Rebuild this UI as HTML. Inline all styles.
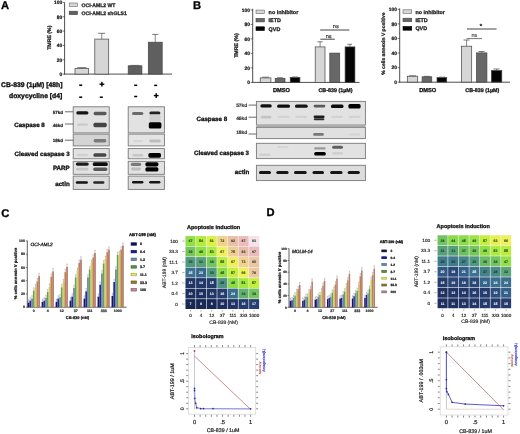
<!DOCTYPE html>
<html><head><meta charset="utf-8"><style>
html,body{margin:0;padding:0;background:#fff;}
svg{display:block;font-family:'Liberation Sans', sans-serif;filter:blur(0.3px);text-rendering:geometricPrecision;}
</style></head><body>
<svg width="520" height="434" viewBox="0 0 520 434">
<defs><filter id="bb" x="-20%" y="-60%" width="140%" height="220%"><feGaussianBlur stdDeviation="0.5"/></filter></defs>
<rect width="520" height="434" fill="#fff"/>
<text x="1" y="9.3" font-size="11.2" font-weight="bold" text-anchor="start" fill="#000" stroke="#000" stroke-width="0.3">A</text>
<text x="193" y="9.3" font-size="11.2" font-weight="bold" text-anchor="start" fill="#000" stroke="#000" stroke-width="0.3">B</text>
<text x="1.2" y="216.8" font-size="11.2" font-weight="bold" text-anchor="start" fill="#000" stroke="#000" stroke-width="0.3">C</text>
<text x="266.6" y="216.2" font-size="11.2" font-weight="bold" text-anchor="start" fill="#000" stroke="#000" stroke-width="0.3">D</text>
<line x1="64.60" y1="2.40" x2="64.60" y2="74.50" stroke="#3a3a3a" stroke-width="0.9"/>
<line x1="64.20" y1="74.10" x2="172.00" y2="74.10" stroke="#3a3a3a" stroke-width="0.9"/>
<line x1="62.60" y1="74.10" x2="64.60" y2="74.10" stroke="#3a3a3a" stroke-width="0.7"/>
<text x="62.2" y="75.86399999999999" font-size="4.9" font-weight="bold" text-anchor="end" fill="#222" stroke="#222" stroke-width="0.245">0</text>
<line x1="62.60" y1="59.76" x2="64.60" y2="59.76" stroke="#3a3a3a" stroke-width="0.7"/>
<text x="62.2" y="61.524" font-size="4.9" font-weight="bold" text-anchor="end" fill="#222" stroke="#222" stroke-width="0.245">20</text>
<line x1="62.60" y1="45.42" x2="64.60" y2="45.42" stroke="#3a3a3a" stroke-width="0.7"/>
<text x="62.2" y="47.184000000000005" font-size="4.9" font-weight="bold" text-anchor="end" fill="#222" stroke="#222" stroke-width="0.245">40</text>
<line x1="62.60" y1="31.08" x2="64.60" y2="31.08" stroke="#3a3a3a" stroke-width="0.7"/>
<text x="62.2" y="32.84400000000001" font-size="4.9" font-weight="bold" text-anchor="end" fill="#222" stroke="#222" stroke-width="0.245">60</text>
<line x1="62.60" y1="16.74" x2="64.60" y2="16.74" stroke="#3a3a3a" stroke-width="0.7"/>
<text x="62.2" y="18.50400000000001" font-size="4.9" font-weight="bold" text-anchor="end" fill="#222" stroke="#222" stroke-width="0.245">80</text>
<line x1="62.60" y1="2.40" x2="64.60" y2="2.40" stroke="#3a3a3a" stroke-width="0.7"/>
<text x="62.2" y="4.164000000000006" font-size="4.9" font-weight="bold" text-anchor="end" fill="#222" stroke="#222" stroke-width="0.245">100</text>
<text x="51.099999999999994" y="37.7" font-size="5.2" font-weight="bold" text-anchor="middle" fill="#222" stroke="#222" stroke-width="0.26" transform="rotate(-90 51.099999999999994 37.7)">TMRE (%)</text>
<rect x="75.00" y="68.40" width="13.40" height="5.70" fill="#d6d6d6" stroke="#444" stroke-width="0.7"/>
<line x1="81.70" y1="68.40" x2="81.70" y2="67.60" stroke="#555" stroke-width="0.7"/>
<line x1="77.30" y1="67.60" x2="86.30" y2="67.60" stroke="#555" stroke-width="0.8"/>
<rect x="94.80" y="39.10" width="13.90" height="35.00" fill="#d6d6d6" stroke="#444" stroke-width="0.7"/>
<line x1="101.75" y1="39.10" x2="101.75" y2="33.30" stroke="#555" stroke-width="0.7"/>
<line x1="98.20" y1="33.30" x2="105.20" y2="33.30" stroke="#555" stroke-width="0.8"/>
<rect x="128.20" y="65.80" width="13.70" height="8.30" fill="#5f5f5f" stroke="#444" stroke-width="0.7"/>
<line x1="135.05" y1="65.80" x2="135.05" y2="65.40" stroke="#555" stroke-width="0.7"/>
<line x1="130.50" y1="65.40" x2="139.50" y2="65.40" stroke="#555" stroke-width="0.8"/>
<rect x="148.30" y="42.20" width="13.90" height="31.90" fill="#5f5f5f" stroke="#444" stroke-width="0.7"/>
<line x1="155.25" y1="42.20" x2="155.25" y2="34.40" stroke="#555" stroke-width="0.7"/>
<line x1="152.20" y1="34.40" x2="158.30" y2="34.40" stroke="#555" stroke-width="0.8"/>
<rect x="69.20" y="3.00" width="8.30" height="3.50" fill="#d6d6d6" stroke="#666" stroke-width="0.6"/>
<rect x="69.20" y="11.20" width="8.30" height="3.40" fill="#5f5f5f" stroke="#444" stroke-width="0.6"/>
<text x="81.5" y="6.8" font-size="5.1" font-weight="bold" text-anchor="start" fill="#222" stroke="#222" stroke-width="0.255">OCI-AML2 WT</text>
<text x="81.5" y="14.8" font-size="5.1" font-weight="bold" text-anchor="start" fill="#222" stroke="#222" stroke-width="0.255">OCI-AML2 shGLS1</text>
<text x="1.1" y="87.0" font-size="6.8" font-weight="bold" text-anchor="start" fill="#111" stroke="#111" stroke-width="0.34">CB-839 (1µM) [48h]</text>
<text x="62.3" y="98.0" font-size="6.8" font-weight="bold" text-anchor="end" fill="#111" stroke="#111" stroke-width="0.34">doxycycline [d4]</text>
<rect x="79.20" y="84.45" width="3.00" height="1.50" fill="#000"/>
<rect x="99.50" y="83.50" width="4.80" height="1.40" fill="#000"/>
<rect x="101.20" y="81.80" width="1.40" height="4.80" fill="#000"/>
<rect x="134.20" y="84.55" width="3.00" height="1.50" fill="#000"/>
<rect x="154.20" y="84.65" width="3.00" height="1.50" fill="#000"/>
<rect x="79.20" y="96.45" width="3.00" height="1.50" fill="#000"/>
<rect x="99.80" y="96.45" width="3.00" height="1.50" fill="#000"/>
<rect x="134.20" y="95.75" width="3.00" height="1.50" fill="#000"/>
<rect x="153.80" y="94.90" width="4.80" height="1.40" fill="#000"/>
<rect x="155.50" y="93.20" width="1.40" height="4.80" fill="#000"/>
<rect x="73.20" y="106.80" width="36.00" height="26.10" fill="#e2e2e2" stroke="#787878" stroke-width="0.9"/>
<rect x="73.20" y="134.10" width="36.00" height="11.80" fill="#d4d4d4" stroke="#787878" stroke-width="0.9"/>
<rect x="73.20" y="148.60" width="36.00" height="10.20" fill="#e2e2e2" stroke="#787878" stroke-width="0.9"/>
<rect x="73.20" y="161.30" width="36.00" height="13.00" fill="#e2e2e2" stroke="#787878" stroke-width="0.9"/>
<rect x="73.20" y="176.10" width="36.00" height="13.30" fill="#dcdcdc" stroke="#787878" stroke-width="0.9"/>
<rect x="128.20" y="106.80" width="36.20" height="26.10" fill="#e2e2e2" stroke="#787878" stroke-width="0.9"/>
<rect x="128.20" y="134.10" width="36.20" height="11.80" fill="#e4e4e4" stroke="#787878" stroke-width="0.9"/>
<rect x="128.20" y="148.60" width="36.20" height="10.20" fill="#e2e2e2" stroke="#787878" stroke-width="0.9"/>
<rect x="128.20" y="161.30" width="36.20" height="13.00" fill="#e2e2e2" stroke="#787878" stroke-width="0.9"/>
<rect x="128.20" y="176.10" width="36.20" height="13.30" fill="#dcdcdc" stroke="#787878" stroke-width="0.9"/>
<rect x="76.30" y="111.20" width="12.10" height="3.40" rx="1.60" fill="#141414" opacity="1.0" filter="url(#bb)"/>
<rect x="93.60" y="111.70" width="13.00" height="3.50" rx="1.60" fill="#585858" opacity="1.0" filter="url(#bb)"/>
<rect x="77.00" y="123.40" width="11.00" height="2.40" rx="1.20" fill="#cacaca" opacity="1.0" filter="url(#bb)"/>
<rect x="93.40" y="122.80" width="13.40" height="4.40" rx="1.60" fill="#444444" opacity="1.0" filter="url(#bb)"/>
<rect x="93.60" y="139.00" width="12.80" height="3.40" rx="1.60" fill="#7a7a7a" opacity="1.0" filter="url(#bb)"/>
<rect x="77.00" y="153.80" width="11.00" height="2.40" rx="1.20" fill="#d0d0d0" opacity="1.0" filter="url(#bb)"/>
<rect x="93.40" y="153.20" width="13.00" height="3.60" rx="1.60" fill="#464646" opacity="1.0" filter="url(#bb)"/>
<rect x="75.80" y="162.40" width="13.00" height="3.30" rx="1.60" fill="#1c1c1c" opacity="1.0" filter="url(#bb)"/>
<rect x="92.80" y="162.20" width="15.00" height="3.80" rx="1.60" fill="#0c0c0c" opacity="1.0" filter="url(#bb)"/>
<rect x="76.00" y="167.80" width="12.50" height="2.60" rx="1.30" fill="#c4c4c4" opacity="1.0" filter="url(#bb)"/>
<rect x="93.20" y="167.50" width="14.20" height="3.40" rx="1.60" fill="#585858" opacity="1.0" filter="url(#bb)"/>
<rect x="75.80" y="181.30" width="12.10" height="2.40" rx="1.20" fill="#161616" opacity="1.0" filter="url(#bb)"/>
<rect x="93.20" y="181.30" width="11.20" height="2.40" rx="1.20" fill="#2a2a2a" opacity="1.0" filter="url(#bb)"/>
<rect x="132.00" y="112.10" width="11.40" height="3.00" rx="1.50" fill="#6a6a6a" opacity="1.0" filter="url(#bb)"/>
<rect x="149.40" y="111.40" width="11.00" height="3.00" rx="1.50" fill="#202020" opacity="1.0" filter="url(#bb)"/>
<rect x="149.40" y="114.40" width="11.20" height="8.20" rx="1.60" fill="#d0d0d0" opacity="1.0" filter="url(#bb)"/>
<rect x="148.80" y="122.20" width="12.60" height="6.40" rx="1.60" fill="#040404" opacity="1.0" filter="url(#bb)"/>
<rect x="133.00" y="140.00" width="10.00" height="2.20" rx="1.10" fill="#d6d6d6" opacity="1.0" filter="url(#bb)"/>
<rect x="149.20" y="139.60" width="11.60" height="2.80" rx="1.40" fill="#bdbdbd" opacity="1.0" filter="url(#bb)"/>
<rect x="132.40" y="154.00" width="10.80" height="2.60" rx="1.30" fill="#c6c6c6" opacity="1.0" filter="url(#bb)"/>
<rect x="148.40" y="152.90" width="12.60" height="4.80" rx="1.60" fill="#060606" opacity="1.0" filter="url(#bb)"/>
<rect x="130.80" y="162.70" width="10.40" height="3.30" rx="1.60" fill="#7a7a7a" opacity="1.0" filter="url(#bb)"/>
<rect x="131.00" y="167.60" width="10.00" height="2.80" rx="1.40" fill="#bdbdbd" opacity="1.0" filter="url(#bb)"/>
<rect x="145.40" y="162.20" width="13.00" height="4.20" rx="1.60" fill="#030303" opacity="1.0" filter="url(#bb)"/>
<rect x="145.40" y="167.20" width="13.00" height="4.40" rx="1.60" fill="#030303" opacity="1.0" filter="url(#bb)"/>
<rect x="132.00" y="181.00" width="11.40" height="2.50" rx="1.25" fill="#121212" opacity="1.0" filter="url(#bb)"/>
<rect x="149.20" y="181.00" width="11.20" height="2.50" rx="1.25" fill="#121212" opacity="1.0" filter="url(#bb)"/>
<text x="14.2" y="126.6" font-size="6.2" font-weight="bold" text-anchor="start" fill="#111" stroke="#111" stroke-width="0.31">Caspase 8</text>
<text x="62.9" y="113.9" font-size="4.5" font-weight="bold" text-anchor="end" fill="#222" stroke="#222" stroke-width="0.2">57kd</text>
<line x1="64.90" y1="111.80" x2="73.20" y2="111.80" stroke="#444" stroke-width="0.8"/>
<text x="62.9" y="126.60000000000001" font-size="4.5" font-weight="bold" text-anchor="end" fill="#222" stroke="#222" stroke-width="0.2">46kd</text>
<line x1="64.90" y1="124.00" x2="73.20" y2="124.00" stroke="#444" stroke-width="0.8"/>
<text x="62.9" y="142.0" font-size="4.5" font-weight="bold" text-anchor="end" fill="#222" stroke="#222" stroke-width="0.2">18kd</text>
<line x1="64.90" y1="140.20" x2="73.20" y2="140.20" stroke="#444" stroke-width="0.8"/>
<text x="69.6" y="156.4" font-size="6.2" font-weight="bold" text-anchor="end" fill="#111" stroke="#111" stroke-width="0.31">Cleaved caspase 3</text>
<text x="69.7" y="170.0" font-size="6.2" font-weight="bold" text-anchor="end" fill="#111" stroke="#111" stroke-width="0.31">PARP</text>
<text x="69.7" y="185.8" font-size="6.2" font-weight="bold" text-anchor="end" fill="#111" stroke="#111" stroke-width="0.31">actin</text>
<line x1="252.70" y1="8.80" x2="252.70" y2="82.80" stroke="#3a3a3a" stroke-width="0.9"/>
<line x1="252.30" y1="82.40" x2="359.50" y2="82.40" stroke="#3a3a3a" stroke-width="0.9"/>
<line x1="250.70" y1="82.40" x2="252.70" y2="82.40" stroke="#3a3a3a" stroke-width="0.7"/>
<text x="250.0" y="84.164" font-size="4.9" font-weight="bold" text-anchor="end" fill="#222" stroke="#222" stroke-width="0.245">0</text>
<line x1="250.70" y1="67.90" x2="252.70" y2="67.90" stroke="#3a3a3a" stroke-width="0.7"/>
<text x="250.0" y="69.664" font-size="4.9" font-weight="bold" text-anchor="end" fill="#222" stroke="#222" stroke-width="0.245">20</text>
<line x1="250.70" y1="53.40" x2="252.70" y2="53.40" stroke="#3a3a3a" stroke-width="0.7"/>
<text x="250.0" y="55.16400000000001" font-size="4.9" font-weight="bold" text-anchor="end" fill="#222" stroke="#222" stroke-width="0.245">40</text>
<line x1="250.70" y1="38.90" x2="252.70" y2="38.90" stroke="#3a3a3a" stroke-width="0.7"/>
<text x="250.0" y="40.66400000000001" font-size="4.9" font-weight="bold" text-anchor="end" fill="#222" stroke="#222" stroke-width="0.245">60</text>
<line x1="250.70" y1="24.40" x2="252.70" y2="24.40" stroke="#3a3a3a" stroke-width="0.7"/>
<text x="250.0" y="26.164000000000005" font-size="4.9" font-weight="bold" text-anchor="end" fill="#222" stroke="#222" stroke-width="0.245">80</text>
<line x1="250.70" y1="9.90" x2="252.70" y2="9.90" stroke="#3a3a3a" stroke-width="0.7"/>
<text x="250.0" y="11.664000000000005" font-size="4.9" font-weight="bold" text-anchor="end" fill="#222" stroke="#222" stroke-width="0.245">100</text>
<text x="238.4" y="45.5" font-size="5.3" font-weight="bold" text-anchor="middle" fill="#222" stroke="#222" stroke-width="0.265" transform="rotate(-90 238.4 45.5)">TMRE (%)</text>
<rect x="256.00" y="10.10" width="8.40" height="3.50" fill="#d6d6d6" stroke="#666" stroke-width="0.6"/>
<rect x="256.00" y="18.40" width="8.40" height="3.50" fill="#686868" stroke="#444" stroke-width="0.6"/>
<rect x="256.00" y="26.80" width="8.40" height="3.70" fill="#050505" stroke="#000" stroke-width="0.6"/>
<text x="268.6" y="13.9" font-size="5.4" font-weight="bold" text-anchor="start" fill="#222" stroke="#222" stroke-width="0.27">no inhibitor</text>
<text x="268.6" y="22.1" font-size="5.4" font-weight="bold" text-anchor="start" fill="#222" stroke="#222" stroke-width="0.27">IETD</text>
<text x="268.6" y="30.5" font-size="5.4" font-weight="bold" text-anchor="start" fill="#222" stroke="#222" stroke-width="0.27">QVD</text>
<rect x="260.20" y="77.90" width="10.70" height="4.50" fill="#d6d6d6" stroke="#444" stroke-width="0.7"/>
<line x1="265.55" y1="77.90" x2="265.55" y2="77.20" stroke="#555" stroke-width="0.7"/>
<line x1="262.00" y1="77.20" x2="269.00" y2="77.20" stroke="#555" stroke-width="0.8"/>
<rect x="275.20" y="78.30" width="9.80" height="4.10" fill="#686868" stroke="#444" stroke-width="0.7"/>
<line x1="280.10" y1="78.30" x2="280.10" y2="77.80" stroke="#555" stroke-width="0.7"/>
<line x1="277.00" y1="77.80" x2="283.00" y2="77.80" stroke="#555" stroke-width="0.8"/>
<rect x="290.20" y="77.40" width="9.70" height="5.00" fill="#050505" stroke="#444" stroke-width="0.7"/>
<line x1="295.05" y1="77.40" x2="295.05" y2="77.00" stroke="#555" stroke-width="0.7"/>
<line x1="292.00" y1="77.00" x2="298.00" y2="77.00" stroke="#555" stroke-width="0.8"/>
<rect x="315.20" y="46.90" width="9.80" height="35.50" fill="#d6d6d6" stroke="#444" stroke-width="0.7"/>
<line x1="320.10" y1="46.90" x2="320.10" y2="41.80" stroke="#555" stroke-width="0.7"/>
<line x1="317.50" y1="41.80" x2="322.70" y2="41.80" stroke="#555" stroke-width="0.8"/>
<rect x="329.80" y="53.10" width="9.90" height="29.30" fill="#686868" stroke="#444" stroke-width="0.7"/>
<rect x="345.10" y="46.90" width="9.80" height="35.50" fill="#050505" stroke="#444" stroke-width="0.7"/>
<line x1="350.00" y1="46.90" x2="350.00" y2="44.30" stroke="#555" stroke-width="0.7"/>
<line x1="347.40" y1="44.30" x2="352.00" y2="44.30" stroke="#555" stroke-width="0.8"/>
<line x1="320.20" y1="30.00" x2="349.40" y2="30.00" stroke="#444" stroke-width="1.0"/>
<text x="335.8" y="27.9" font-size="5.6" font-weight="normal" text-anchor="middle" fill="#333" stroke="#333" stroke-width="0.2">ns</text>
<line x1="320.40" y1="39.20" x2="334.80" y2="39.20" stroke="#444" stroke-width="1.0"/>
<text x="328.6" y="37.6" font-size="5.6" font-weight="normal" text-anchor="middle" fill="#333" stroke="#333" stroke-width="0.2">ns</text>
<text x="281.5" y="92.1" font-size="5.7" font-weight="bold" text-anchor="middle" fill="#111" stroke="#111" stroke-width="0.285">DMSO</text>
<text x="335.5" y="92.0" font-size="5.35" font-weight="bold" text-anchor="middle" fill="#111" stroke="#111" stroke-width="0.268">CB-839 (1µM)</text>
<line x1="399.70" y1="8.40" x2="399.70" y2="82.60" stroke="#3a3a3a" stroke-width="0.9"/>
<line x1="399.30" y1="82.20" x2="510.00" y2="82.20" stroke="#3a3a3a" stroke-width="0.9"/>
<line x1="397.70" y1="82.20" x2="399.70" y2="82.20" stroke="#3a3a3a" stroke-width="0.7"/>
<text x="396.9" y="83.964" font-size="4.9" font-weight="bold" text-anchor="end" fill="#222" stroke="#222" stroke-width="0.245">0</text>
<line x1="397.70" y1="67.62" x2="399.70" y2="67.62" stroke="#3a3a3a" stroke-width="0.7"/>
<text x="396.9" y="69.384" font-size="4.9" font-weight="bold" text-anchor="end" fill="#222" stroke="#222" stroke-width="0.245">20</text>
<line x1="397.70" y1="53.04" x2="399.70" y2="53.04" stroke="#3a3a3a" stroke-width="0.7"/>
<text x="396.9" y="54.804" font-size="4.9" font-weight="bold" text-anchor="end" fill="#222" stroke="#222" stroke-width="0.245">40</text>
<line x1="397.70" y1="38.46" x2="399.70" y2="38.46" stroke="#3a3a3a" stroke-width="0.7"/>
<text x="396.9" y="40.224" font-size="4.9" font-weight="bold" text-anchor="end" fill="#222" stroke="#222" stroke-width="0.245">60</text>
<line x1="397.70" y1="23.88" x2="399.70" y2="23.88" stroke="#3a3a3a" stroke-width="0.7"/>
<text x="396.9" y="25.643999999999995" font-size="4.9" font-weight="bold" text-anchor="end" fill="#222" stroke="#222" stroke-width="0.245">80</text>
<line x1="397.70" y1="9.30" x2="399.70" y2="9.30" stroke="#3a3a3a" stroke-width="0.7"/>
<text x="396.9" y="11.063999999999997" font-size="4.9" font-weight="bold" text-anchor="end" fill="#222" stroke="#222" stroke-width="0.245">100</text>
<text x="385.2" y="43.6" font-size="5.0" font-weight="bold" text-anchor="middle" fill="#222" stroke="#222" stroke-width="0.25" transform="rotate(-90 385.2 43.6)">% cells annexin V positive</text>
<rect x="403.00" y="9.80" width="8.70" height="3.50" fill="#d6d6d6" stroke="#666" stroke-width="0.6"/>
<rect x="403.00" y="18.20" width="8.70" height="3.50" fill="#686868" stroke="#444" stroke-width="0.6"/>
<rect x="403.00" y="26.50" width="8.70" height="3.70" fill="#050505" stroke="#000" stroke-width="0.6"/>
<text x="415.4" y="13.5" font-size="5.35" font-weight="bold" text-anchor="start" fill="#222" stroke="#222" stroke-width="0.268">no inhibitor</text>
<text x="415.4" y="21.9" font-size="5.4" font-weight="bold" text-anchor="start" fill="#222" stroke="#222" stroke-width="0.27">IETD</text>
<text x="415.4" y="30.3" font-size="5.4" font-weight="bold" text-anchor="start" fill="#222" stroke="#222" stroke-width="0.27">QVD</text>
<rect x="407.30" y="76.20" width="10.40" height="5.90" fill="#d6d6d6" stroke="#444" stroke-width="0.7"/>
<line x1="412.50" y1="76.20" x2="412.50" y2="75.80" stroke="#555" stroke-width="0.7"/>
<line x1="409.00" y1="75.80" x2="416.00" y2="75.80" stroke="#555" stroke-width="0.8"/>
<rect x="422.10" y="76.80" width="9.70" height="5.30" fill="#686868" stroke="#444" stroke-width="0.7"/>
<line x1="426.95" y1="76.80" x2="426.95" y2="76.40" stroke="#555" stroke-width="0.7"/>
<line x1="424.00" y1="76.40" x2="430.00" y2="76.40" stroke="#555" stroke-width="0.8"/>
<rect x="437.00" y="77.60" width="9.70" height="4.50" fill="#050505" stroke="#444" stroke-width="0.7"/>
<line x1="441.85" y1="77.60" x2="441.85" y2="77.20" stroke="#555" stroke-width="0.7"/>
<line x1="439.00" y1="77.20" x2="445.00" y2="77.20" stroke="#555" stroke-width="0.8"/>
<rect x="461.40" y="46.20" width="10.30" height="35.90" fill="#d6d6d6" stroke="#444" stroke-width="0.7"/>
<line x1="466.55" y1="46.20" x2="466.55" y2="40.00" stroke="#555" stroke-width="0.7"/>
<line x1="463.50" y1="40.00" x2="469.50" y2="40.00" stroke="#555" stroke-width="0.8"/>
<rect x="476.50" y="52.90" width="10.40" height="29.20" fill="#686868" stroke="#444" stroke-width="0.7"/>
<line x1="481.70" y1="52.90" x2="481.70" y2="51.50" stroke="#555" stroke-width="0.7"/>
<line x1="478.50" y1="51.50" x2="484.50" y2="51.50" stroke="#555" stroke-width="0.8"/>
<rect x="491.40" y="70.50" width="10.40" height="11.60" fill="#050505" stroke="#444" stroke-width="0.7"/>
<line x1="496.60" y1="70.50" x2="496.60" y2="69.00" stroke="#555" stroke-width="0.7"/>
<line x1="493.50" y1="69.00" x2="499.50" y2="69.00" stroke="#555" stroke-width="0.8"/>
<line x1="467.00" y1="29.00" x2="496.60" y2="29.00" stroke="#444" stroke-width="1.0"/>
<text x="481" y="28.3" font-size="6" font-weight="bold" text-anchor="middle" fill="#222" stroke="#222" stroke-width="0.3">*</text>
<line x1="466.60" y1="38.60" x2="482.00" y2="38.60" stroke="#666" stroke-width="0.9"/>
<text x="474.4" y="36.8" font-size="5.6" font-weight="normal" text-anchor="middle" fill="#444" stroke="#444" stroke-width="0.15">ns</text>
<text x="427.7" y="91.6" font-size="5.7" font-weight="bold" text-anchor="middle" fill="#111" stroke="#111" stroke-width="0.285">DMSO</text>
<text x="482.3" y="92.0" font-size="5.35" font-weight="bold" text-anchor="middle" fill="#111" stroke="#111" stroke-width="0.268">CB-839 (1µM)</text>
<rect x="256.40" y="101.40" width="109.00" height="23.80" fill="#e2e2e2" stroke="#787878" stroke-width="0.9"/>
<rect x="256.4" y="124.3" width="109.0" height="3.2" fill="#b0b0b0"/>
<rect x="256.40" y="127.30" width="109.00" height="11.30" fill="#e0e0e0" stroke="#787878" stroke-width="0.9"/>
<rect x="256.40" y="143.30" width="109.00" height="15.30" fill="#e2e2e2" stroke="#787878" stroke-width="0.9"/>
<rect x="256.40" y="165.30" width="109.00" height="15.30" fill="#dcdcdc" stroke="#787878" stroke-width="0.9"/>
<rect x="260.40" y="104.30" width="11.30" height="3.20" rx="1.60" fill="#0c0c0c" opacity="1.0" filter="url(#bb)"/>
<rect x="277.10" y="104.60" width="12.90" height="3.20" rx="1.60" fill="#0e0e0e" opacity="1.0" filter="url(#bb)"/>
<rect x="295.00" y="104.60" width="12.70" height="3.20" rx="1.60" fill="#121212" opacity="1.0" filter="url(#bb)"/>
<rect x="313.60" y="104.80" width="11.70" height="2.60" rx="1.30" fill="#5a5a5a" opacity="1.0" filter="url(#bb)"/>
<rect x="330.90" y="104.60" width="12.60" height="3.40" rx="1.60" fill="#0a0a0a" opacity="1.0" filter="url(#bb)"/>
<rect x="348.40" y="103.90" width="12.20" height="4.60" rx="1.60" fill="#020202" opacity="1.0" filter="url(#bb)"/>
<rect x="260.60" y="115.80" width="10.90" height="2.60" rx="1.30" fill="#c4c4c4" opacity="1.0" filter="url(#bb)"/>
<rect x="277.50" y="115.80" width="12.00" height="2.20" rx="1.10" fill="#d2d2d2" opacity="1.0" filter="url(#bb)"/>
<rect x="295.30" y="115.80" width="12.00" height="2.20" rx="1.10" fill="#d2d2d2" opacity="1.0" filter="url(#bb)"/>
<rect x="331.20" y="115.80" width="12.00" height="2.20" rx="1.10" fill="#d2d2d2" opacity="1.0" filter="url(#bb)"/>
<rect x="348.60" y="115.80" width="12.00" height="2.20" rx="1.10" fill="#d2d2d2" opacity="1.0" filter="url(#bb)"/>
<rect x="313.60" y="115.40" width="11.00" height="2.70" rx="1.35" fill="#1e1e1e" opacity="1.0" filter="url(#bb)"/>
<rect x="313.80" y="118.30" width="10.60" height="1.90" rx="0.95" fill="#2e2e2e" opacity="1.0" filter="url(#bb)"/>
<rect x="313.20" y="133.10" width="10.60" height="2.60" rx="1.30" fill="#777777" opacity="1.0" filter="url(#bb)"/>
<rect x="348.80" y="133.40" width="11.20" height="2.00" rx="1.00" fill="#d4d4d4" opacity="1.0" filter="url(#bb)"/>
<rect x="259.20" y="153.70" width="11.20" height="2.10" rx="1.05" fill="#cbcbcb" opacity="1.0" filter="url(#bb)"/>
<rect x="277.00" y="146.10" width="11.60" height="2.10" rx="1.05" fill="#d6d6d6" opacity="1.0" filter="url(#bb)"/>
<rect x="314.20" y="147.20" width="11.40" height="2.40" rx="1.20" fill="#999999" opacity="1.0" filter="url(#bb)"/>
<rect x="314.20" y="152.00" width="11.60" height="3.60" rx="1.60" fill="#050505" opacity="1.0" filter="url(#bb)"/>
<rect x="332.10" y="145.80" width="10.90" height="3.00" rx="1.50" fill="#5e5e5e" opacity="1.0" filter="url(#bb)"/>
<rect x="332.10" y="152.20" width="10.90" height="2.20" rx="1.10" fill="#cccccc" opacity="1.0" filter="url(#bb)"/>
<rect x="259.00" y="171.00" width="12.00" height="3.10" rx="1.55" fill="#121212" opacity="1.0" filter="url(#bb)"/>
<rect x="276.30" y="171.00" width="12.30" height="3.10" rx="1.55" fill="#121212" opacity="1.0" filter="url(#bb)"/>
<rect x="294.00" y="171.00" width="12.70" height="3.10" rx="1.55" fill="#121212" opacity="1.0" filter="url(#bb)"/>
<rect x="312.50" y="171.00" width="11.50" height="3.10" rx="1.55" fill="#121212" opacity="1.0" filter="url(#bb)"/>
<rect x="330.10" y="171.00" width="12.40" height="3.10" rx="1.55" fill="#121212" opacity="1.0" filter="url(#bb)"/>
<rect x="347.70" y="171.00" width="12.10" height="3.10" rx="1.55" fill="#121212" opacity="1.0" filter="url(#bb)"/>
<text x="196.5" y="120.8" font-size="6.2" font-weight="bold" text-anchor="start" fill="#111" stroke="#111" stroke-width="0.31">Caspase 8</text>
<text x="247.3" y="107.3" font-size="4.9" font-weight="bold" text-anchor="end" fill="#333" stroke="#333" stroke-width="0.15">57kd</text>
<line x1="248.60" y1="105.10" x2="256.40" y2="105.10" stroke="#444" stroke-width="0.8"/>
<text x="247.3" y="119.7" font-size="4.9" font-weight="bold" text-anchor="end" fill="#333" stroke="#333" stroke-width="0.15">46kd</text>
<line x1="248.60" y1="117.20" x2="256.40" y2="117.20" stroke="#444" stroke-width="0.8"/>
<text x="247.3" y="133.7" font-size="4.9" font-weight="bold" text-anchor="end" fill="#333" stroke="#333" stroke-width="0.15">18kd</text>
<line x1="248.60" y1="134.00" x2="256.40" y2="134.00" stroke="#444" stroke-width="0.8"/>
<text x="194.0" y="154.9" font-size="6.2" font-weight="bold" text-anchor="start" fill="#111" stroke="#111" stroke-width="0.31">Cleaved caspase 3</text>
<text x="249.3" y="174.3" font-size="6.2" font-weight="bold" text-anchor="end" fill="#111" stroke="#111" stroke-width="0.31">actin</text>
<rect x="185.20" y="235.80" width="74.20" height="73.50" fill="#f4f4f4"/>
<rect x="185.50" y="236.10" width="10.00" height="9.90" fill="#93e046"/>
<text x="190.5" y="242.35000000000002" font-size="3.6" font-weight="bold" text-anchor="middle" fill="#1a3a1a" stroke="#1a3a1a" stroke-width="0.05">47</text>
<rect x="196.10" y="236.10" width="10.00" height="9.90" fill="#b2ec3f"/>
<text x="201.1" y="242.35000000000002" font-size="3.6" font-weight="bold" text-anchor="middle" fill="#1a3a1a" stroke="#1a3a1a" stroke-width="0.05">54</text>
<rect x="206.70" y="236.10" width="10.00" height="9.90" fill="#dcf145"/>
<text x="211.7" y="242.35000000000002" font-size="3.6" font-weight="bold" text-anchor="middle" fill="#1a3a1a" stroke="#1a3a1a" stroke-width="0.05">61</text>
<rect x="217.30" y="236.10" width="10.00" height="9.90" fill="#f2d28a"/>
<text x="222.29999999999998" y="242.35000000000002" font-size="3.6" font-weight="bold" text-anchor="middle" fill="#1a3a1a" stroke="#1a3a1a" stroke-width="0.05">72</text>
<rect x="227.90" y="236.10" width="10.00" height="9.90" fill="#ecbea7"/>
<text x="232.89999999999998" y="242.35000000000002" font-size="3.6" font-weight="bold" text-anchor="middle" fill="#1a3a1a" stroke="#1a3a1a" stroke-width="0.05">82</text>
<rect x="238.50" y="236.10" width="10.00" height="9.90" fill="#edbbbb"/>
<text x="243.49999999999997" y="242.35000000000002" font-size="3.6" font-weight="bold" text-anchor="middle" fill="#1a3a1a" stroke="#1a3a1a" stroke-width="0.05">87</text>
<rect x="249.10" y="236.10" width="10.00" height="9.90" fill="#f6e2ea"/>
<text x="254.09999999999997" y="242.35000000000002" font-size="3.6" font-weight="bold" text-anchor="middle" fill="#1a3a1a" stroke="#1a3a1a" stroke-width="0.05">93</text>
<rect x="185.50" y="246.60" width="10.00" height="9.90" fill="#76c75b"/>
<text x="190.5" y="252.85000000000002" font-size="3.6" font-weight="bold" text-anchor="middle" fill="#1a3a1a" stroke="#1a3a1a" stroke-width="0.05">39</text>
<rect x="196.10" y="246.60" width="10.00" height="9.90" fill="#90de47"/>
<text x="201.1" y="252.85000000000002" font-size="3.6" font-weight="bold" text-anchor="middle" fill="#1a3a1a" stroke="#1a3a1a" stroke-width="0.05">46</text>
<rect x="206.70" y="246.60" width="10.00" height="9.90" fill="#aceb3f"/>
<text x="211.7" y="252.85000000000002" font-size="3.6" font-weight="bold" text-anchor="middle" fill="#1a3a1a" stroke="#1a3a1a" stroke-width="0.05">53</text>
<rect x="217.30" y="246.60" width="10.00" height="9.90" fill="#f2ef5d"/>
<text x="222.29999999999998" y="252.85000000000002" font-size="3.6" font-weight="bold" text-anchor="middle" fill="#1a3a1a" stroke="#1a3a1a" stroke-width="0.05">67</text>
<rect x="227.90" y="246.60" width="10.00" height="9.90" fill="#f0ce93"/>
<text x="232.89999999999998" y="252.85000000000002" font-size="3.6" font-weight="bold" text-anchor="middle" fill="#1a3a1a" stroke="#1a3a1a" stroke-width="0.05">75</text>
<rect x="238.50" y="246.60" width="10.00" height="9.90" fill="#ebbbaa"/>
<text x="243.49999999999997" y="252.85000000000002" font-size="3.6" font-weight="bold" text-anchor="middle" fill="#1a3a1a" stroke="#1a3a1a" stroke-width="0.05">83</text>
<rect x="249.10" y="246.60" width="10.00" height="9.90" fill="#edbbbb"/>
<text x="254.09999999999997" y="252.85000000000002" font-size="3.6" font-weight="bold" text-anchor="middle" fill="#1a3a1a" stroke="#1a3a1a" stroke-width="0.05">87</text>
<rect x="185.50" y="257.10" width="10.00" height="9.90" fill="#539980"/>
<text x="190.5" y="263.35" font-size="3.6" font-weight="bold" text-anchor="middle" fill="#1a3a1a" stroke="#1a3a1a" stroke-width="0.05">30</text>
<rect x="196.10" y="257.10" width="10.00" height="9.90" fill="#58a07c"/>
<text x="201.1" y="263.35" font-size="3.6" font-weight="bold" text-anchor="middle" fill="#1a3a1a" stroke="#1a3a1a" stroke-width="0.05">31</text>
<rect x="206.70" y="257.10" width="10.00" height="9.90" fill="#72c45e"/>
<text x="211.7" y="263.35" font-size="3.6" font-weight="bold" text-anchor="middle" fill="#1a3a1a" stroke="#1a3a1a" stroke-width="0.05">38</text>
<rect x="217.30" y="257.10" width="10.00" height="9.90" fill="#b8ed3e"/>
<text x="222.29999999999998" y="263.35" font-size="3.6" font-weight="bold" text-anchor="middle" fill="#1a3a1a" stroke="#1a3a1a" stroke-width="0.05">55</text>
<rect x="227.90" y="257.10" width="10.00" height="9.90" fill="#f2ef5d"/>
<text x="232.89999999999998" y="263.35" font-size="3.6" font-weight="bold" text-anchor="middle" fill="#1a3a1a" stroke="#1a3a1a" stroke-width="0.05">67</text>
<rect x="238.50" y="257.10" width="10.00" height="9.90" fill="#f2d08d"/>
<text x="243.49999999999997" y="263.35" font-size="3.6" font-weight="bold" text-anchor="middle" fill="#1a3a1a" stroke="#1a3a1a" stroke-width="0.05">73</text>
<rect x="249.10" y="257.10" width="10.00" height="9.90" fill="#eec4a2"/>
<text x="254.09999999999997" y="263.35" font-size="3.6" font-weight="bold" text-anchor="middle" fill="#1a3a1a" stroke="#1a3a1a" stroke-width="0.05">80</text>
<rect x="185.50" y="267.60" width="10.00" height="9.90" fill="#3b7290"/>
<text x="190.5" y="273.85" font-size="3.6" font-weight="bold" text-anchor="middle" fill="#f4f4f4" stroke="#f4f4f4" stroke-width="0.05">25</text>
<rect x="196.10" y="267.60" width="10.00" height="9.90" fill="#37698d"/>
<text x="201.1" y="273.85" font-size="3.6" font-weight="bold" text-anchor="middle" fill="#f4f4f4" stroke="#f4f4f4" stroke-width="0.05">23</text>
<rect x="206.70" y="267.60" width="10.00" height="9.90" fill="#539980"/>
<text x="211.7" y="273.85" font-size="3.6" font-weight="bold" text-anchor="middle" fill="#1a3a1a" stroke="#1a3a1a" stroke-width="0.05">30</text>
<rect x="217.30" y="267.60" width="10.00" height="9.90" fill="#8cdc48"/>
<text x="222.29999999999998" y="273.85" font-size="3.6" font-weight="bold" text-anchor="middle" fill="#1a3a1a" stroke="#1a3a1a" stroke-width="0.05">45</text>
<rect x="227.90" y="267.60" width="10.00" height="9.90" fill="#c5ef3d"/>
<text x="232.89999999999998" y="273.85" font-size="3.6" font-weight="bold" text-anchor="middle" fill="#1a3a1a" stroke="#1a3a1a" stroke-width="0.05">57</text>
<rect x="238.50" y="267.60" width="10.00" height="9.90" fill="#f0f058"/>
<text x="243.49999999999997" y="273.85" font-size="3.6" font-weight="bold" text-anchor="middle" fill="#1a3a1a" stroke="#1a3a1a" stroke-width="0.05">66</text>
<rect x="249.10" y="267.60" width="10.00" height="9.90" fill="#eec69f"/>
<text x="254.09999999999997" y="273.85" font-size="3.6" font-weight="bold" text-anchor="middle" fill="#1a3a1a" stroke="#1a3a1a" stroke-width="0.05">79</text>
<rect x="185.50" y="278.10" width="10.00" height="9.90" fill="#203565"/>
<text x="190.5" y="284.35" font-size="3.6" font-weight="bold" text-anchor="middle" fill="#f4f4f4" stroke="#f4f4f4" stroke-width="0.05">13</text>
<rect x="196.10" y="278.10" width="10.00" height="9.90" fill="#223768"/>
<text x="201.1" y="284.35" font-size="3.6" font-weight="bold" text-anchor="middle" fill="#f4f4f4" stroke="#f4f4f4" stroke-width="0.05">14</text>
<rect x="206.70" y="278.10" width="10.00" height="9.90" fill="#243a6c"/>
<text x="211.7" y="284.35" font-size="3.6" font-weight="bold" text-anchor="middle" fill="#f4f4f4" stroke="#f4f4f4" stroke-width="0.05">15</text>
<rect x="217.30" y="278.10" width="10.00" height="9.90" fill="#4f9184"/>
<text x="222.29999999999998" y="284.35" font-size="3.6" font-weight="bold" text-anchor="middle" fill="#1a3a1a" stroke="#1a3a1a" stroke-width="0.05">29</text>
<rect x="227.90" y="278.10" width="10.00" height="9.90" fill="#8cdc48"/>
<text x="232.89999999999998" y="284.35" font-size="3.6" font-weight="bold" text-anchor="middle" fill="#1a3a1a" stroke="#1a3a1a" stroke-width="0.05">45</text>
<rect x="238.50" y="278.10" width="10.00" height="9.90" fill="#a2e841"/>
<text x="243.49999999999997" y="284.35" font-size="3.6" font-weight="bold" text-anchor="middle" fill="#1a3a1a" stroke="#1a3a1a" stroke-width="0.05">51</text>
<rect x="249.10" y="278.10" width="10.00" height="9.90" fill="#c5ef3d"/>
<text x="254.09999999999997" y="284.35" font-size="3.6" font-weight="bold" text-anchor="middle" fill="#1a3a1a" stroke="#1a3a1a" stroke-width="0.05">57</text>
<rect x="185.50" y="288.60" width="10.00" height="9.90" fill="#1b2e5d"/>
<text x="190.5" y="294.85" font-size="3.6" font-weight="bold" text-anchor="middle" fill="#f4f4f4" stroke="#f4f4f4" stroke-width="0.05">10</text>
<rect x="196.10" y="288.60" width="10.00" height="9.90" fill="#1b2e5d"/>
<text x="201.1" y="294.85" font-size="3.6" font-weight="bold" text-anchor="middle" fill="#f4f4f4" stroke="#f4f4f4" stroke-width="0.05">10</text>
<rect x="206.70" y="288.60" width="10.00" height="9.90" fill="#203565"/>
<text x="211.7" y="294.85" font-size="3.6" font-weight="bold" text-anchor="middle" fill="#f4f4f4" stroke="#f4f4f4" stroke-width="0.05">13</text>
<rect x="217.30" y="288.60" width="10.00" height="9.90" fill="#263c6f"/>
<text x="222.29999999999998" y="294.85" font-size="3.6" font-weight="bold" text-anchor="middle" fill="#f4f4f4" stroke="#f4f4f4" stroke-width="0.05">16</text>
<rect x="227.90" y="288.60" width="10.00" height="9.90" fill="#396e8e"/>
<text x="232.89999999999998" y="294.85" font-size="3.6" font-weight="bold" text-anchor="middle" fill="#f4f4f4" stroke="#f4f4f4" stroke-width="0.05">24</text>
<rect x="238.50" y="288.60" width="10.00" height="9.90" fill="#63af6f"/>
<text x="243.49999999999997" y="294.85" font-size="3.6" font-weight="bold" text-anchor="middle" fill="#1a3a1a" stroke="#1a3a1a" stroke-width="0.05">34</text>
<rect x="249.10" y="288.60" width="10.00" height="9.90" fill="#72c45e"/>
<text x="254.09999999999997" y="294.85" font-size="3.6" font-weight="bold" text-anchor="middle" fill="#1a3a1a" stroke="#1a3a1a" stroke-width="0.05">38</text>
<rect x="185.50" y="299.10" width="10.00" height="9.90" fill="#182754"/>
<text x="190.5" y="305.35" font-size="3.6" font-weight="bold" text-anchor="middle" fill="#f4f4f4" stroke="#f4f4f4" stroke-width="0.05">7</text>
<rect x="196.10" y="299.10" width="10.00" height="9.90" fill="#192957"/>
<text x="201.1" y="305.35" font-size="3.6" font-weight="bold" text-anchor="middle" fill="#f4f4f4" stroke="#f4f4f4" stroke-width="0.05">8</text>
<rect x="206.70" y="299.10" width="10.00" height="9.90" fill="#192957"/>
<text x="211.7" y="305.35" font-size="3.6" font-weight="bold" text-anchor="middle" fill="#f4f4f4" stroke="#f4f4f4" stroke-width="0.05">8</text>
<rect x="217.30" y="299.10" width="10.00" height="9.90" fill="#1b2e5d"/>
<text x="222.29999999999998" y="305.35" font-size="3.6" font-weight="bold" text-anchor="middle" fill="#f4f4f4" stroke="#f4f4f4" stroke-width="0.05">10</text>
<rect x="227.90" y="299.10" width="10.00" height="9.90" fill="#203565"/>
<text x="232.89999999999998" y="305.35" font-size="3.6" font-weight="bold" text-anchor="middle" fill="#f4f4f4" stroke="#f4f4f4" stroke-width="0.05">13</text>
<rect x="238.50" y="299.10" width="10.00" height="9.90" fill="#263c6f"/>
<text x="243.49999999999997" y="305.35" font-size="3.6" font-weight="bold" text-anchor="middle" fill="#f4f4f4" stroke="#f4f4f4" stroke-width="0.05">16</text>
<rect x="249.10" y="299.10" width="10.00" height="9.90" fill="#283f72"/>
<text x="254.09999999999997" y="305.35" font-size="3.6" font-weight="bold" text-anchor="middle" fill="#f4f4f4" stroke="#f4f4f4" stroke-width="0.05">17</text>
<line x1="182.20" y1="241.05" x2="184.60" y2="241.05" stroke="#666" stroke-width="0.5"/>
<text x="177.89999999999998" y="242.65" font-size="4.6" font-weight="normal" text-anchor="end" fill="#222" stroke="#222" stroke-width="0.15">100</text>
<line x1="182.20" y1="251.55" x2="184.60" y2="251.55" stroke="#666" stroke-width="0.5"/>
<text x="177.89999999999998" y="253.15" font-size="4.6" font-weight="normal" text-anchor="end" fill="#222" stroke="#222" stroke-width="0.15">33.3</text>
<line x1="182.20" y1="262.05" x2="184.60" y2="262.05" stroke="#666" stroke-width="0.5"/>
<text x="177.89999999999998" y="263.65000000000003" font-size="4.6" font-weight="normal" text-anchor="end" fill="#222" stroke="#222" stroke-width="0.15">11.1</text>
<line x1="182.20" y1="272.55" x2="184.60" y2="272.55" stroke="#666" stroke-width="0.5"/>
<text x="177.89999999999998" y="274.15000000000003" font-size="4.6" font-weight="normal" text-anchor="end" fill="#222" stroke="#222" stroke-width="0.15">3.7</text>
<line x1="182.20" y1="283.05" x2="184.60" y2="283.05" stroke="#666" stroke-width="0.5"/>
<text x="177.89999999999998" y="284.65000000000003" font-size="4.6" font-weight="normal" text-anchor="end" fill="#222" stroke="#222" stroke-width="0.15">1.2</text>
<line x1="182.20" y1="293.55" x2="184.60" y2="293.55" stroke="#666" stroke-width="0.5"/>
<text x="177.89999999999998" y="295.15000000000003" font-size="4.6" font-weight="normal" text-anchor="end" fill="#222" stroke="#222" stroke-width="0.15">0.4</text>
<line x1="182.20" y1="304.05" x2="184.60" y2="304.05" stroke="#666" stroke-width="0.5"/>
<text x="177.89999999999998" y="305.65000000000003" font-size="4.6" font-weight="normal" text-anchor="end" fill="#222" stroke="#222" stroke-width="0.15">0</text>
<line x1="190.50" y1="310.10" x2="190.50" y2="311.70" stroke="#666" stroke-width="0.5"/>
<text x="190.5" y="317.3" font-size="4.6" font-weight="normal" text-anchor="middle" fill="#222" stroke="#222" stroke-width="0.15">0</text>
<line x1="201.10" y1="310.10" x2="201.10" y2="311.70" stroke="#666" stroke-width="0.5"/>
<text x="201.1" y="317.3" font-size="4.6" font-weight="normal" text-anchor="middle" fill="#222" stroke="#222" stroke-width="0.15">4</text>
<line x1="211.70" y1="310.10" x2="211.70" y2="311.70" stroke="#666" stroke-width="0.5"/>
<text x="211.7" y="317.3" font-size="4.6" font-weight="normal" text-anchor="middle" fill="#222" stroke="#222" stroke-width="0.15">12</text>
<line x1="222.30" y1="310.10" x2="222.30" y2="311.70" stroke="#666" stroke-width="0.5"/>
<text x="222.29999999999998" y="317.3" font-size="4.6" font-weight="normal" text-anchor="middle" fill="#222" stroke="#222" stroke-width="0.15">37</text>
<line x1="232.90" y1="310.10" x2="232.90" y2="311.70" stroke="#666" stroke-width="0.5"/>
<text x="232.89999999999998" y="317.3" font-size="4.6" font-weight="normal" text-anchor="middle" fill="#222" stroke="#222" stroke-width="0.15">111</text>
<line x1="243.50" y1="310.10" x2="243.50" y2="311.70" stroke="#666" stroke-width="0.5"/>
<text x="243.49999999999997" y="317.3" font-size="4.6" font-weight="normal" text-anchor="middle" fill="#222" stroke="#222" stroke-width="0.15">333</text>
<line x1="254.10" y1="310.10" x2="254.10" y2="311.70" stroke="#666" stroke-width="0.5"/>
<text x="254.09999999999997" y="317.3" font-size="4.6" font-weight="normal" text-anchor="middle" fill="#222" stroke="#222" stroke-width="0.15">1000</text>
<text x="223.6" y="323.5" font-size="5.0" font-weight="normal" text-anchor="middle" fill="#222" stroke="#222" stroke-width="0.15">CB-839 (nM)</text>
<text x="165.7" y="272.55" font-size="5.0" font-weight="normal" text-anchor="middle" fill="#222" stroke="#222" stroke-width="0.15" transform="rotate(-90 165.7 272.55)">ABT-199 (nM)</text>
<text x="187.0" y="228.8" font-size="5.5" font-weight="bold" text-anchor="start" fill="#111" stroke="#111" stroke-width="0.275">Apoptosis induction</text>
<rect x="437.30" y="235.00" width="74.10" height="73.50" fill="#f4f4f4"/>
<rect x="437.60" y="235.30" width="9.99" height="9.90" fill="#72c45e"/>
<text x="442.59285714285716" y="241.55" font-size="3.6" font-weight="bold" text-anchor="middle" fill="#1a3a1a" stroke="#1a3a1a" stroke-width="0.05">38</text>
<rect x="448.19" y="235.30" width="9.99" height="9.90" fill="#88d94b"/>
<text x="453.17857142857144" y="241.55" font-size="3.6" font-weight="bold" text-anchor="middle" fill="#1a3a1a" stroke="#1a3a1a" stroke-width="0.05">44</text>
<rect x="458.77" y="235.30" width="9.99" height="9.90" fill="#8cdc48"/>
<text x="463.76428571428573" y="241.55" font-size="3.6" font-weight="bold" text-anchor="middle" fill="#1a3a1a" stroke="#1a3a1a" stroke-width="0.05">45</text>
<rect x="469.36" y="235.30" width="9.99" height="9.90" fill="#9be443"/>
<text x="474.35" y="241.55" font-size="3.6" font-weight="bold" text-anchor="middle" fill="#1a3a1a" stroke="#1a3a1a" stroke-width="0.05">49</text>
<rect x="479.94" y="235.30" width="9.99" height="9.90" fill="#c5ef3d"/>
<text x="484.93571428571425" y="241.55" font-size="3.6" font-weight="bold" text-anchor="middle" fill="#1a3a1a" stroke="#1a3a1a" stroke-width="0.05">57</text>
<rect x="490.53" y="235.30" width="9.99" height="9.90" fill="#e6f24b"/>
<text x="495.52142857142854" y="241.55" font-size="3.6" font-weight="bold" text-anchor="middle" fill="#1a3a1a" stroke="#1a3a1a" stroke-width="0.05">63</text>
<rect x="501.11" y="235.30" width="9.99" height="9.90" fill="#f0f058"/>
<text x="506.10714285714283" y="241.55" font-size="3.6" font-weight="bold" text-anchor="middle" fill="#1a3a1a" stroke="#1a3a1a" stroke-width="0.05">66</text>
<rect x="437.60" y="245.80" width="9.99" height="9.90" fill="#58a07c"/>
<text x="442.59285714285716" y="252.05" font-size="3.6" font-weight="bold" text-anchor="middle" fill="#1a3a1a" stroke="#1a3a1a" stroke-width="0.05">31</text>
<rect x="448.19" y="245.80" width="9.99" height="9.90" fill="#58a07c"/>
<text x="453.17857142857144" y="252.05" font-size="3.6" font-weight="bold" text-anchor="middle" fill="#1a3a1a" stroke="#1a3a1a" stroke-width="0.05">31</text>
<rect x="458.77" y="245.80" width="9.99" height="9.90" fill="#6ebf62"/>
<text x="463.76428571428573" y="252.05" font-size="3.6" font-weight="bold" text-anchor="middle" fill="#1a3a1a" stroke="#1a3a1a" stroke-width="0.05">37</text>
<rect x="469.36" y="245.80" width="9.99" height="9.90" fill="#76c75b"/>
<text x="474.35" y="252.05" font-size="3.6" font-weight="bold" text-anchor="middle" fill="#1a3a1a" stroke="#1a3a1a" stroke-width="0.05">39</text>
<rect x="479.94" y="245.80" width="9.99" height="9.90" fill="#90de47"/>
<text x="484.93571428571425" y="252.05" font-size="3.6" font-weight="bold" text-anchor="middle" fill="#1a3a1a" stroke="#1a3a1a" stroke-width="0.05">46</text>
<rect x="490.53" y="245.80" width="9.99" height="9.90" fill="#aceb3f"/>
<text x="495.52142857142854" y="252.05" font-size="3.6" font-weight="bold" text-anchor="middle" fill="#1a3a1a" stroke="#1a3a1a" stroke-width="0.05">53</text>
<rect x="501.11" y="245.80" width="9.99" height="9.90" fill="#b8ed3e"/>
<text x="506.10714285714283" y="252.05" font-size="3.6" font-weight="bold" text-anchor="middle" fill="#1a3a1a" stroke="#1a3a1a" stroke-width="0.05">55</text>
<rect x="437.60" y="256.30" width="9.99" height="9.90" fill="#407a8d"/>
<text x="442.59285714285716" y="262.55" font-size="3.6" font-weight="bold" text-anchor="middle" fill="#1a3a1a" stroke="#1a3a1a" stroke-width="0.05">26</text>
<rect x="448.19" y="256.30" width="9.99" height="9.90" fill="#407a8d"/>
<text x="453.17857142857144" y="262.55" font-size="3.6" font-weight="bold" text-anchor="middle" fill="#1a3a1a" stroke="#1a3a1a" stroke-width="0.05">26</text>
<rect x="458.77" y="256.30" width="9.99" height="9.90" fill="#45828b"/>
<text x="463.76428571428573" y="262.55" font-size="3.6" font-weight="bold" text-anchor="middle" fill="#1a3a1a" stroke="#1a3a1a" stroke-width="0.05">27</text>
<rect x="469.36" y="256.30" width="9.99" height="9.90" fill="#539980"/>
<text x="474.35" y="262.55" font-size="3.6" font-weight="bold" text-anchor="middle" fill="#1a3a1a" stroke="#1a3a1a" stroke-width="0.05">30</text>
<rect x="479.94" y="256.30" width="9.99" height="9.90" fill="#6bba67"/>
<text x="484.93571428571425" y="262.55" font-size="3.6" font-weight="bold" text-anchor="middle" fill="#1a3a1a" stroke="#1a3a1a" stroke-width="0.05">36</text>
<rect x="490.53" y="256.30" width="9.99" height="9.90" fill="#72c45e"/>
<text x="495.52142857142854" y="262.55" font-size="3.6" font-weight="bold" text-anchor="middle" fill="#1a3a1a" stroke="#1a3a1a" stroke-width="0.05">38</text>
<rect x="501.11" y="256.30" width="9.99" height="9.90" fill="#93e046"/>
<text x="506.10714285714283" y="262.55" font-size="3.6" font-weight="bold" text-anchor="middle" fill="#1a3a1a" stroke="#1a3a1a" stroke-width="0.05">47</text>
<rect x="437.60" y="266.80" width="9.99" height="9.90" fill="#305884"/>
<text x="442.59285714285716" y="273.05" font-size="3.6" font-weight="bold" text-anchor="middle" fill="#f4f4f4" stroke="#f4f4f4" stroke-width="0.05">20</text>
<rect x="448.19" y="266.80" width="9.99" height="9.90" fill="#2b4778"/>
<text x="453.17857142857144" y="273.05" font-size="3.6" font-weight="bold" text-anchor="middle" fill="#f4f4f4" stroke="#f4f4f4" stroke-width="0.05">18</text>
<rect x="458.77" y="266.80" width="9.99" height="9.90" fill="#33608a"/>
<text x="463.76428571428573" y="273.05" font-size="3.6" font-weight="bold" text-anchor="middle" fill="#f4f4f4" stroke="#f4f4f4" stroke-width="0.05">21</text>
<rect x="469.36" y="266.80" width="9.99" height="9.90" fill="#3b7290"/>
<text x="474.35" y="273.05" font-size="3.6" font-weight="bold" text-anchor="middle" fill="#f4f4f4" stroke="#f4f4f4" stroke-width="0.05">25</text>
<rect x="479.94" y="266.80" width="9.99" height="9.90" fill="#45828b"/>
<text x="484.93571428571425" y="273.05" font-size="3.6" font-weight="bold" text-anchor="middle" fill="#1a3a1a" stroke="#1a3a1a" stroke-width="0.05">27</text>
<rect x="490.53" y="266.80" width="9.99" height="9.90" fill="#4a8a88"/>
<text x="495.52142857142854" y="273.05" font-size="3.6" font-weight="bold" text-anchor="middle" fill="#1a3a1a" stroke="#1a3a1a" stroke-width="0.05">28</text>
<rect x="501.11" y="266.80" width="9.99" height="9.90" fill="#5ca578"/>
<text x="506.10714285714283" y="273.05" font-size="3.6" font-weight="bold" text-anchor="middle" fill="#1a3a1a" stroke="#1a3a1a" stroke-width="0.05">32</text>
<rect x="437.60" y="277.30" width="9.99" height="9.90" fill="#263c6f"/>
<text x="442.59285714285716" y="283.55" font-size="3.6" font-weight="bold" text-anchor="middle" fill="#f4f4f4" stroke="#f4f4f4" stroke-width="0.05">16</text>
<rect x="448.19" y="277.30" width="9.99" height="9.90" fill="#2b4778"/>
<text x="453.17857142857144" y="283.55" font-size="3.6" font-weight="bold" text-anchor="middle" fill="#f4f4f4" stroke="#f4f4f4" stroke-width="0.05">18</text>
<rect x="458.77" y="277.30" width="9.99" height="9.90" fill="#2b4778"/>
<text x="463.76428571428573" y="283.55" font-size="3.6" font-weight="bold" text-anchor="middle" fill="#f4f4f4" stroke="#f4f4f4" stroke-width="0.05">18</text>
<rect x="469.36" y="277.30" width="9.99" height="9.90" fill="#2b4778"/>
<text x="474.35" y="283.55" font-size="3.6" font-weight="bold" text-anchor="middle" fill="#f4f4f4" stroke="#f4f4f4" stroke-width="0.05">18</text>
<rect x="479.94" y="277.30" width="9.99" height="9.90" fill="#35648c"/>
<text x="484.93571428571425" y="283.55" font-size="3.6" font-weight="bold" text-anchor="middle" fill="#f4f4f4" stroke="#f4f4f4" stroke-width="0.05">22</text>
<rect x="490.53" y="277.30" width="9.99" height="9.90" fill="#396e8e"/>
<text x="495.52142857142854" y="283.55" font-size="3.6" font-weight="bold" text-anchor="middle" fill="#f4f4f4" stroke="#f4f4f4" stroke-width="0.05">24</text>
<rect x="501.11" y="277.30" width="9.99" height="9.90" fill="#396e8e"/>
<text x="506.10714285714283" y="283.55" font-size="3.6" font-weight="bold" text-anchor="middle" fill="#f4f4f4" stroke="#f4f4f4" stroke-width="0.05">24</text>
<rect x="437.60" y="287.80" width="9.99" height="9.90" fill="#1e3262"/>
<text x="442.59285714285716" y="294.05" font-size="3.6" font-weight="bold" text-anchor="middle" fill="#f4f4f4" stroke="#f4f4f4" stroke-width="0.05">12</text>
<rect x="448.19" y="287.80" width="9.99" height="9.90" fill="#203565"/>
<text x="453.17857142857144" y="294.05" font-size="3.6" font-weight="bold" text-anchor="middle" fill="#f4f4f4" stroke="#f4f4f4" stroke-width="0.05">13</text>
<rect x="458.77" y="287.80" width="9.99" height="9.90" fill="#223768"/>
<text x="463.76428571428573" y="294.05" font-size="3.6" font-weight="bold" text-anchor="middle" fill="#f4f4f4" stroke="#f4f4f4" stroke-width="0.05">14</text>
<rect x="469.36" y="287.80" width="9.99" height="9.90" fill="#263c6f"/>
<text x="474.35" y="294.05" font-size="3.6" font-weight="bold" text-anchor="middle" fill="#f4f4f4" stroke="#f4f4f4" stroke-width="0.05">16</text>
<rect x="479.94" y="287.80" width="9.99" height="9.90" fill="#263c6f"/>
<text x="484.93571428571425" y="294.05" font-size="3.6" font-weight="bold" text-anchor="middle" fill="#f4f4f4" stroke="#f4f4f4" stroke-width="0.05">16</text>
<rect x="490.53" y="287.80" width="9.99" height="9.90" fill="#2e507e"/>
<text x="495.52142857142854" y="294.05" font-size="3.6" font-weight="bold" text-anchor="middle" fill="#f4f4f4" stroke="#f4f4f4" stroke-width="0.05">19</text>
<rect x="501.11" y="287.80" width="9.99" height="9.90" fill="#33608a"/>
<text x="506.10714285714283" y="294.05" font-size="3.6" font-weight="bold" text-anchor="middle" fill="#f4f4f4" stroke="#f4f4f4" stroke-width="0.05">21</text>
<rect x="437.60" y="298.30" width="9.99" height="9.90" fill="#1d305f"/>
<text x="442.59285714285716" y="304.55" font-size="3.6" font-weight="bold" text-anchor="middle" fill="#f4f4f4" stroke="#f4f4f4" stroke-width="0.05">11</text>
<rect x="448.19" y="298.30" width="9.99" height="9.90" fill="#1d305f"/>
<text x="453.17857142857144" y="304.55" font-size="3.6" font-weight="bold" text-anchor="middle" fill="#f4f4f4" stroke="#f4f4f4" stroke-width="0.05">11</text>
<rect x="458.77" y="298.30" width="9.99" height="9.90" fill="#203565"/>
<text x="463.76428571428573" y="304.55" font-size="3.6" font-weight="bold" text-anchor="middle" fill="#f4f4f4" stroke="#f4f4f4" stroke-width="0.05">13</text>
<rect x="469.36" y="298.30" width="9.99" height="9.90" fill="#223768"/>
<text x="474.35" y="304.55" font-size="3.6" font-weight="bold" text-anchor="middle" fill="#f4f4f4" stroke="#f4f4f4" stroke-width="0.05">14</text>
<rect x="479.94" y="298.30" width="9.99" height="9.90" fill="#243a6c"/>
<text x="484.93571428571425" y="304.55" font-size="3.6" font-weight="bold" text-anchor="middle" fill="#f4f4f4" stroke="#f4f4f4" stroke-width="0.05">15</text>
<rect x="490.53" y="298.30" width="9.99" height="9.90" fill="#243a6c"/>
<text x="495.52142857142854" y="304.55" font-size="3.6" font-weight="bold" text-anchor="middle" fill="#f4f4f4" stroke="#f4f4f4" stroke-width="0.05">15</text>
<rect x="501.11" y="298.30" width="9.99" height="9.90" fill="#263c6f"/>
<text x="506.10714285714283" y="304.55" font-size="3.6" font-weight="bold" text-anchor="middle" fill="#f4f4f4" stroke="#f4f4f4" stroke-width="0.05">16</text>
<line x1="434.30" y1="240.25" x2="436.70" y2="240.25" stroke="#666" stroke-width="0.5"/>
<text x="430.0" y="241.85" font-size="4.6" font-weight="normal" text-anchor="end" fill="#222" stroke="#222" stroke-width="0.15">100</text>
<line x1="434.30" y1="250.75" x2="436.70" y2="250.75" stroke="#666" stroke-width="0.5"/>
<text x="430.0" y="252.35" font-size="4.6" font-weight="normal" text-anchor="end" fill="#222" stroke="#222" stroke-width="0.15">33.3</text>
<line x1="434.30" y1="261.25" x2="436.70" y2="261.25" stroke="#666" stroke-width="0.5"/>
<text x="430.0" y="262.85" font-size="4.6" font-weight="normal" text-anchor="end" fill="#222" stroke="#222" stroke-width="0.15">11.1</text>
<line x1="434.30" y1="271.75" x2="436.70" y2="271.75" stroke="#666" stroke-width="0.5"/>
<text x="430.0" y="273.35" font-size="4.6" font-weight="normal" text-anchor="end" fill="#222" stroke="#222" stroke-width="0.15">3.7</text>
<line x1="434.30" y1="282.25" x2="436.70" y2="282.25" stroke="#666" stroke-width="0.5"/>
<text x="430.0" y="283.85" font-size="4.6" font-weight="normal" text-anchor="end" fill="#222" stroke="#222" stroke-width="0.15">1.2</text>
<line x1="434.30" y1="292.75" x2="436.70" y2="292.75" stroke="#666" stroke-width="0.5"/>
<text x="430.0" y="294.35" font-size="4.6" font-weight="normal" text-anchor="end" fill="#222" stroke="#222" stroke-width="0.15">0.4</text>
<line x1="434.30" y1="303.25" x2="436.70" y2="303.25" stroke="#666" stroke-width="0.5"/>
<text x="430.0" y="304.85" font-size="4.6" font-weight="normal" text-anchor="end" fill="#222" stroke="#222" stroke-width="0.15">0</text>
<line x1="442.59" y1="309.30" x2="442.59" y2="310.90" stroke="#666" stroke-width="0.5"/>
<text x="442.59285714285716" y="317.4" font-size="4.6" font-weight="normal" text-anchor="middle" fill="#222" stroke="#222" stroke-width="0.15">0</text>
<line x1="453.18" y1="309.30" x2="453.18" y2="310.90" stroke="#666" stroke-width="0.5"/>
<text x="453.17857142857144" y="317.4" font-size="4.6" font-weight="normal" text-anchor="middle" fill="#222" stroke="#222" stroke-width="0.15">4</text>
<line x1="463.76" y1="309.30" x2="463.76" y2="310.90" stroke="#666" stroke-width="0.5"/>
<text x="463.76428571428573" y="317.4" font-size="4.6" font-weight="normal" text-anchor="middle" fill="#222" stroke="#222" stroke-width="0.15">12</text>
<line x1="474.35" y1="309.30" x2="474.35" y2="310.90" stroke="#666" stroke-width="0.5"/>
<text x="474.35" y="317.4" font-size="4.6" font-weight="normal" text-anchor="middle" fill="#222" stroke="#222" stroke-width="0.15">37</text>
<line x1="484.94" y1="309.30" x2="484.94" y2="310.90" stroke="#666" stroke-width="0.5"/>
<text x="484.93571428571425" y="317.4" font-size="4.6" font-weight="normal" text-anchor="middle" fill="#222" stroke="#222" stroke-width="0.15">111</text>
<line x1="495.52" y1="309.30" x2="495.52" y2="310.90" stroke="#666" stroke-width="0.5"/>
<text x="495.52142857142854" y="317.4" font-size="4.6" font-weight="normal" text-anchor="middle" fill="#222" stroke="#222" stroke-width="0.15">333</text>
<line x1="506.11" y1="309.30" x2="506.11" y2="310.90" stroke="#666" stroke-width="0.5"/>
<text x="506.10714285714283" y="317.4" font-size="4.6" font-weight="normal" text-anchor="middle" fill="#222" stroke="#222" stroke-width="0.15">1000</text>
<text x="475.65000000000003" y="322.7" font-size="5.0" font-weight="normal" text-anchor="middle" fill="#222" stroke="#222" stroke-width="0.15">CB-839 (nM)</text>
<text x="417.8" y="271.75" font-size="5.0" font-weight="normal" text-anchor="middle" fill="#222" stroke="#222" stroke-width="0.15" transform="rotate(-90 417.8 271.75)">ABT-199 (nM)</text>
<text x="436.6" y="228.0" font-size="5.5" font-weight="bold" text-anchor="start" fill="#111" stroke="#111" stroke-width="0.275">Apoptosis induction</text>
<line x1="27.30" y1="240.50" x2="27.30" y2="307.50" stroke="#3a3a3a" stroke-width="0.8"/>
<line x1="27.00" y1="307.20" x2="126.60" y2="307.20" stroke="#3a3a3a" stroke-width="0.8"/>
<line x1="25.80" y1="307.20" x2="27.30" y2="307.20" stroke="#3a3a3a" stroke-width="0.6"/>
<text x="25.1" y="308.4" font-size="3.6" font-weight="bold" text-anchor="end" fill="#222" stroke="#222" stroke-width="0.18">0</text>
<line x1="25.80" y1="293.96" x2="27.30" y2="293.96" stroke="#3a3a3a" stroke-width="0.6"/>
<text x="25.1" y="295.15999999999997" font-size="3.6" font-weight="bold" text-anchor="end" fill="#222" stroke="#222" stroke-width="0.18">20</text>
<line x1="25.80" y1="280.72" x2="27.30" y2="280.72" stroke="#3a3a3a" stroke-width="0.6"/>
<text x="25.1" y="281.91999999999996" font-size="3.6" font-weight="bold" text-anchor="end" fill="#222" stroke="#222" stroke-width="0.18">40</text>
<line x1="25.80" y1="267.48" x2="27.30" y2="267.48" stroke="#3a3a3a" stroke-width="0.6"/>
<text x="25.1" y="268.68" font-size="3.6" font-weight="bold" text-anchor="end" fill="#222" stroke="#222" stroke-width="0.18">60</text>
<line x1="25.80" y1="254.24" x2="27.30" y2="254.24" stroke="#3a3a3a" stroke-width="0.6"/>
<text x="25.1" y="255.44" font-size="3.6" font-weight="bold" text-anchor="end" fill="#222" stroke="#222" stroke-width="0.18">80</text>
<line x1="25.80" y1="241.00" x2="27.30" y2="241.00" stroke="#3a3a3a" stroke-width="0.6"/>
<text x="25.1" y="242.2" font-size="3.6" font-weight="bold" text-anchor="end" fill="#222" stroke="#222" stroke-width="0.18">100</text>
<rect x="27.65" y="302.57" width="1.76" height="4.63" fill="#1a1a52"/>
<line x1="28.53" y1="302.57" x2="28.53" y2="299.77" stroke="#8a8a8a" stroke-width="0.5"/>
<line x1="27.83" y1="299.77" x2="29.23" y2="299.77" stroke="#8a8a8a" stroke-width="0.4"/>
<rect x="29.41" y="300.58" width="1.76" height="6.62" fill="#2828a0"/>
<line x1="30.29" y1="300.58" x2="30.29" y2="297.78" stroke="#8a8a8a" stroke-width="0.5"/>
<line x1="29.58" y1="297.78" x2="30.99" y2="297.78" stroke="#8a8a8a" stroke-width="0.4"/>
<rect x="31.16" y="298.59" width="1.76" height="8.61" fill="#6a88a8"/>
<line x1="32.04" y1="298.59" x2="32.04" y2="295.79" stroke="#8a8a8a" stroke-width="0.5"/>
<line x1="31.34" y1="295.79" x2="32.75" y2="295.79" stroke="#8a8a8a" stroke-width="0.4"/>
<rect x="32.92" y="290.65" width="1.76" height="16.55" fill="#6aa052"/>
<line x1="33.80" y1="290.65" x2="33.80" y2="287.85" stroke="#8a8a8a" stroke-width="0.5"/>
<line x1="33.10" y1="287.85" x2="34.50" y2="287.85" stroke="#8a8a8a" stroke-width="0.4"/>
<rect x="34.68" y="287.34" width="1.76" height="19.86" fill="#d2cc6c"/>
<line x1="35.56" y1="287.34" x2="35.56" y2="284.54" stroke="#8a8a8a" stroke-width="0.5"/>
<line x1="34.85" y1="284.54" x2="36.26" y2="284.54" stroke="#8a8a8a" stroke-width="0.4"/>
<rect x="36.44" y="281.38" width="1.76" height="25.82" fill="#bc8450"/>
<line x1="37.31" y1="281.38" x2="37.31" y2="278.58" stroke="#8a8a8a" stroke-width="0.5"/>
<line x1="36.61" y1="278.58" x2="38.02" y2="278.58" stroke="#8a8a8a" stroke-width="0.4"/>
<rect x="38.19" y="276.09" width="1.76" height="31.11" fill="#b87c6c"/>
<line x1="39.07" y1="276.09" x2="39.07" y2="273.29" stroke="#8a8a8a" stroke-width="0.5"/>
<line x1="38.37" y1="273.29" x2="39.77" y2="273.29" stroke="#8a8a8a" stroke-width="0.4"/>
<text x="33.8" y="312.09999999999997" font-size="3.6" font-weight="bold" text-anchor="middle" fill="#222" stroke="#222" stroke-width="0.18">0</text>
<rect x="41.63" y="301.90" width="1.76" height="5.30" fill="#1a1a52"/>
<line x1="42.51" y1="301.90" x2="42.51" y2="299.10" stroke="#8a8a8a" stroke-width="0.5"/>
<line x1="41.81" y1="299.10" x2="43.21" y2="299.10" stroke="#8a8a8a" stroke-width="0.4"/>
<rect x="43.39" y="300.58" width="1.76" height="6.62" fill="#2828a0"/>
<line x1="44.27" y1="300.58" x2="44.27" y2="297.78" stroke="#8a8a8a" stroke-width="0.5"/>
<line x1="43.56" y1="297.78" x2="44.97" y2="297.78" stroke="#8a8a8a" stroke-width="0.4"/>
<rect x="45.14" y="297.93" width="1.76" height="9.27" fill="#6a88a8"/>
<line x1="46.02" y1="297.93" x2="46.02" y2="295.13" stroke="#8a8a8a" stroke-width="0.5"/>
<line x1="45.32" y1="295.13" x2="46.73" y2="295.13" stroke="#8a8a8a" stroke-width="0.4"/>
<rect x="46.90" y="291.97" width="1.76" height="15.23" fill="#6aa052"/>
<line x1="47.78" y1="291.97" x2="47.78" y2="289.17" stroke="#8a8a8a" stroke-width="0.5"/>
<line x1="47.08" y1="289.17" x2="48.48" y2="289.17" stroke="#8a8a8a" stroke-width="0.4"/>
<rect x="48.66" y="286.68" width="1.76" height="20.52" fill="#d2cc6c"/>
<line x1="49.54" y1="286.68" x2="49.54" y2="283.88" stroke="#8a8a8a" stroke-width="0.5"/>
<line x1="48.83" y1="283.88" x2="50.24" y2="283.88" stroke="#8a8a8a" stroke-width="0.4"/>
<rect x="50.42" y="276.75" width="1.76" height="30.45" fill="#bc8450"/>
<line x1="51.29" y1="276.75" x2="51.29" y2="273.95" stroke="#8a8a8a" stroke-width="0.5"/>
<line x1="50.59" y1="273.95" x2="52.00" y2="273.95" stroke="#8a8a8a" stroke-width="0.4"/>
<rect x="52.17" y="271.45" width="1.76" height="35.75" fill="#b87c6c"/>
<line x1="53.05" y1="271.45" x2="53.05" y2="268.65" stroke="#8a8a8a" stroke-width="0.5"/>
<line x1="52.35" y1="268.65" x2="53.75" y2="268.65" stroke="#8a8a8a" stroke-width="0.4"/>
<text x="47.78" y="312.09999999999997" font-size="3.6" font-weight="bold" text-anchor="middle" fill="#222" stroke="#222" stroke-width="0.18">4</text>
<rect x="55.61" y="301.90" width="1.76" height="5.30" fill="#1a1a52"/>
<line x1="56.49" y1="301.90" x2="56.49" y2="299.10" stroke="#8a8a8a" stroke-width="0.5"/>
<line x1="55.79" y1="299.10" x2="57.19" y2="299.10" stroke="#8a8a8a" stroke-width="0.4"/>
<rect x="57.37" y="298.59" width="1.76" height="8.61" fill="#2828a0"/>
<line x1="58.25" y1="298.59" x2="58.25" y2="295.79" stroke="#8a8a8a" stroke-width="0.5"/>
<line x1="57.54" y1="295.79" x2="58.95" y2="295.79" stroke="#8a8a8a" stroke-width="0.4"/>
<rect x="59.12" y="297.27" width="1.76" height="9.93" fill="#6a88a8"/>
<line x1="60.00" y1="297.27" x2="60.00" y2="294.47" stroke="#8a8a8a" stroke-width="0.5"/>
<line x1="59.30" y1="294.47" x2="60.71" y2="294.47" stroke="#8a8a8a" stroke-width="0.4"/>
<rect x="60.88" y="287.34" width="1.76" height="19.86" fill="#6aa052"/>
<line x1="61.76" y1="287.34" x2="61.76" y2="284.54" stroke="#8a8a8a" stroke-width="0.5"/>
<line x1="61.06" y1="284.54" x2="62.46" y2="284.54" stroke="#8a8a8a" stroke-width="0.4"/>
<rect x="62.64" y="282.04" width="1.76" height="25.16" fill="#d2cc6c"/>
<line x1="63.52" y1="282.04" x2="63.52" y2="279.24" stroke="#8a8a8a" stroke-width="0.5"/>
<line x1="62.81" y1="279.24" x2="64.22" y2="279.24" stroke="#8a8a8a" stroke-width="0.4"/>
<rect x="64.40" y="272.11" width="1.76" height="35.09" fill="#bc8450"/>
<line x1="65.27" y1="272.11" x2="65.27" y2="269.31" stroke="#8a8a8a" stroke-width="0.5"/>
<line x1="64.57" y1="269.31" x2="65.98" y2="269.31" stroke="#8a8a8a" stroke-width="0.4"/>
<rect x="66.15" y="266.82" width="1.76" height="40.38" fill="#b87c6c"/>
<line x1="67.03" y1="266.82" x2="67.03" y2="264.02" stroke="#8a8a8a" stroke-width="0.5"/>
<line x1="66.33" y1="264.02" x2="67.73" y2="264.02" stroke="#8a8a8a" stroke-width="0.4"/>
<text x="61.76" y="312.09999999999997" font-size="3.6" font-weight="bold" text-anchor="middle" fill="#222" stroke="#222" stroke-width="0.18">12</text>
<rect x="69.59" y="300.58" width="1.76" height="6.62" fill="#1a1a52"/>
<line x1="70.47" y1="300.58" x2="70.47" y2="297.78" stroke="#8a8a8a" stroke-width="0.5"/>
<line x1="69.77" y1="297.78" x2="71.17" y2="297.78" stroke="#8a8a8a" stroke-width="0.4"/>
<rect x="71.35" y="296.61" width="1.76" height="10.59" fill="#2828a0"/>
<line x1="72.23" y1="296.61" x2="72.23" y2="293.81" stroke="#8a8a8a" stroke-width="0.5"/>
<line x1="71.52" y1="293.81" x2="72.93" y2="293.81" stroke="#8a8a8a" stroke-width="0.4"/>
<rect x="73.10" y="288.00" width="1.76" height="19.20" fill="#6a88a8"/>
<line x1="73.98" y1="288.00" x2="73.98" y2="285.20" stroke="#8a8a8a" stroke-width="0.5"/>
<line x1="73.28" y1="285.20" x2="74.69" y2="285.20" stroke="#8a8a8a" stroke-width="0.4"/>
<rect x="74.86" y="277.41" width="1.76" height="29.79" fill="#6aa052"/>
<line x1="75.74" y1="277.41" x2="75.74" y2="274.61" stroke="#8a8a8a" stroke-width="0.5"/>
<line x1="75.04" y1="274.61" x2="76.44" y2="274.61" stroke="#8a8a8a" stroke-width="0.4"/>
<rect x="76.62" y="270.79" width="1.76" height="36.41" fill="#d2cc6c"/>
<line x1="77.50" y1="270.79" x2="77.50" y2="267.99" stroke="#8a8a8a" stroke-width="0.5"/>
<line x1="76.79" y1="267.99" x2="78.20" y2="267.99" stroke="#8a8a8a" stroke-width="0.4"/>
<rect x="78.38" y="262.85" width="1.76" height="44.35" fill="#bc8450"/>
<line x1="79.25" y1="262.85" x2="79.25" y2="260.05" stroke="#8a8a8a" stroke-width="0.5"/>
<line x1="78.55" y1="260.05" x2="79.96" y2="260.05" stroke="#8a8a8a" stroke-width="0.4"/>
<rect x="80.13" y="259.54" width="1.76" height="47.66" fill="#b87c6c"/>
<line x1="81.01" y1="259.54" x2="81.01" y2="256.74" stroke="#8a8a8a" stroke-width="0.5"/>
<line x1="80.31" y1="256.74" x2="81.71" y2="256.74" stroke="#8a8a8a" stroke-width="0.4"/>
<text x="75.74" y="312.09999999999997" font-size="3.6" font-weight="bold" text-anchor="middle" fill="#222" stroke="#222" stroke-width="0.18">37</text>
<rect x="83.57" y="298.59" width="1.76" height="8.61" fill="#1a1a52"/>
<line x1="84.45" y1="298.59" x2="84.45" y2="295.79" stroke="#8a8a8a" stroke-width="0.5"/>
<line x1="83.75" y1="295.79" x2="85.15" y2="295.79" stroke="#8a8a8a" stroke-width="0.4"/>
<rect x="85.33" y="291.31" width="1.76" height="15.89" fill="#2828a0"/>
<line x1="86.21" y1="291.31" x2="86.21" y2="288.51" stroke="#8a8a8a" stroke-width="0.5"/>
<line x1="85.50" y1="288.51" x2="86.91" y2="288.51" stroke="#8a8a8a" stroke-width="0.4"/>
<rect x="87.08" y="277.41" width="1.76" height="29.79" fill="#6a88a8"/>
<line x1="87.96" y1="277.41" x2="87.96" y2="274.61" stroke="#8a8a8a" stroke-width="0.5"/>
<line x1="87.26" y1="274.61" x2="88.67" y2="274.61" stroke="#8a8a8a" stroke-width="0.4"/>
<rect x="88.84" y="269.47" width="1.76" height="37.73" fill="#6aa052"/>
<line x1="89.72" y1="269.47" x2="89.72" y2="266.67" stroke="#8a8a8a" stroke-width="0.5"/>
<line x1="89.02" y1="266.67" x2="90.42" y2="266.67" stroke="#8a8a8a" stroke-width="0.4"/>
<rect x="90.60" y="262.85" width="1.76" height="44.35" fill="#d2cc6c"/>
<line x1="91.48" y1="262.85" x2="91.48" y2="260.05" stroke="#8a8a8a" stroke-width="0.5"/>
<line x1="90.77" y1="260.05" x2="92.18" y2="260.05" stroke="#8a8a8a" stroke-width="0.4"/>
<rect x="92.36" y="257.55" width="1.76" height="49.65" fill="#bc8450"/>
<line x1="93.23" y1="257.55" x2="93.23" y2="254.75" stroke="#8a8a8a" stroke-width="0.5"/>
<line x1="92.53" y1="254.75" x2="93.94" y2="254.75" stroke="#8a8a8a" stroke-width="0.4"/>
<rect x="94.11" y="252.92" width="1.76" height="54.28" fill="#b87c6c"/>
<line x1="94.99" y1="252.92" x2="94.99" y2="250.12" stroke="#8a8a8a" stroke-width="0.5"/>
<line x1="94.29" y1="250.12" x2="95.69" y2="250.12" stroke="#8a8a8a" stroke-width="0.4"/>
<text x="89.72" y="312.09999999999997" font-size="3.6" font-weight="bold" text-anchor="middle" fill="#222" stroke="#222" stroke-width="0.18">111</text>
<rect x="97.55" y="296.61" width="1.76" height="10.59" fill="#1a1a52"/>
<line x1="98.43" y1="296.61" x2="98.43" y2="293.81" stroke="#8a8a8a" stroke-width="0.5"/>
<line x1="97.73" y1="293.81" x2="99.13" y2="293.81" stroke="#8a8a8a" stroke-width="0.4"/>
<rect x="99.31" y="284.69" width="1.76" height="22.51" fill="#2828a0"/>
<line x1="100.19" y1="284.69" x2="100.19" y2="281.89" stroke="#8a8a8a" stroke-width="0.5"/>
<line x1="99.48" y1="281.89" x2="100.89" y2="281.89" stroke="#8a8a8a" stroke-width="0.4"/>
<rect x="101.06" y="273.44" width="1.76" height="33.76" fill="#6a88a8"/>
<line x1="101.94" y1="273.44" x2="101.94" y2="270.64" stroke="#8a8a8a" stroke-width="0.5"/>
<line x1="101.24" y1="270.64" x2="102.65" y2="270.64" stroke="#8a8a8a" stroke-width="0.4"/>
<rect x="102.82" y="263.51" width="1.76" height="43.69" fill="#6aa052"/>
<line x1="103.70" y1="263.51" x2="103.70" y2="260.71" stroke="#8a8a8a" stroke-width="0.5"/>
<line x1="103.00" y1="260.71" x2="104.40" y2="260.71" stroke="#8a8a8a" stroke-width="0.4"/>
<rect x="104.58" y="258.87" width="1.76" height="48.33" fill="#d2cc6c"/>
<line x1="105.46" y1="258.87" x2="105.46" y2="256.07" stroke="#8a8a8a" stroke-width="0.5"/>
<line x1="104.75" y1="256.07" x2="106.16" y2="256.07" stroke="#8a8a8a" stroke-width="0.4"/>
<rect x="106.34" y="252.25" width="1.76" height="54.95" fill="#bc8450"/>
<line x1="107.21" y1="252.25" x2="107.21" y2="249.45" stroke="#8a8a8a" stroke-width="0.5"/>
<line x1="106.51" y1="249.45" x2="107.92" y2="249.45" stroke="#8a8a8a" stroke-width="0.4"/>
<rect x="108.09" y="249.61" width="1.76" height="57.59" fill="#b87c6c"/>
<line x1="108.97" y1="249.61" x2="108.97" y2="246.81" stroke="#8a8a8a" stroke-width="0.5"/>
<line x1="108.27" y1="246.81" x2="109.67" y2="246.81" stroke="#8a8a8a" stroke-width="0.4"/>
<text x="103.7" y="312.09999999999997" font-size="3.6" font-weight="bold" text-anchor="middle" fill="#222" stroke="#222" stroke-width="0.18">333</text>
<rect x="111.53" y="295.95" width="1.76" height="11.25" fill="#1a1a52"/>
<line x1="112.41" y1="295.95" x2="112.41" y2="293.15" stroke="#8a8a8a" stroke-width="0.5"/>
<line x1="111.71" y1="293.15" x2="113.11" y2="293.15" stroke="#8a8a8a" stroke-width="0.4"/>
<rect x="113.29" y="282.04" width="1.76" height="25.16" fill="#2828a0"/>
<line x1="114.17" y1="282.04" x2="114.17" y2="279.24" stroke="#8a8a8a" stroke-width="0.5"/>
<line x1="113.46" y1="279.24" x2="114.87" y2="279.24" stroke="#8a8a8a" stroke-width="0.4"/>
<rect x="115.04" y="269.47" width="1.76" height="37.73" fill="#6a88a8"/>
<line x1="115.92" y1="269.47" x2="115.92" y2="266.67" stroke="#8a8a8a" stroke-width="0.5"/>
<line x1="115.22" y1="266.67" x2="116.63" y2="266.67" stroke="#8a8a8a" stroke-width="0.4"/>
<rect x="116.80" y="254.90" width="1.76" height="52.30" fill="#6aa052"/>
<line x1="117.68" y1="254.90" x2="117.68" y2="252.10" stroke="#8a8a8a" stroke-width="0.5"/>
<line x1="116.98" y1="252.10" x2="118.38" y2="252.10" stroke="#8a8a8a" stroke-width="0.4"/>
<rect x="118.56" y="254.24" width="1.76" height="52.96" fill="#d2cc6c"/>
<line x1="119.44" y1="254.24" x2="119.44" y2="251.44" stroke="#8a8a8a" stroke-width="0.5"/>
<line x1="118.73" y1="251.44" x2="120.14" y2="251.44" stroke="#8a8a8a" stroke-width="0.4"/>
<rect x="120.32" y="249.61" width="1.76" height="57.59" fill="#bc8450"/>
<line x1="121.19" y1="249.61" x2="121.19" y2="246.81" stroke="#8a8a8a" stroke-width="0.5"/>
<line x1="120.49" y1="246.81" x2="121.90" y2="246.81" stroke="#8a8a8a" stroke-width="0.4"/>
<rect x="122.07" y="245.63" width="1.76" height="61.57" fill="#b87c6c"/>
<line x1="122.95" y1="245.63" x2="122.95" y2="242.83" stroke="#8a8a8a" stroke-width="0.5"/>
<line x1="122.25" y1="242.83" x2="123.65" y2="242.83" stroke="#8a8a8a" stroke-width="0.4"/>
<text x="117.67999999999999" y="312.09999999999997" font-size="3.6" font-weight="bold" text-anchor="middle" fill="#222" stroke="#222" stroke-width="0.18">1000</text>
<text x="77.45" y="318.5" font-size="4.0" font-weight="bold" text-anchor="middle" fill="#111" stroke="#111" stroke-width="0.2">CB-839 (nM)</text>
<text x="30.5" y="245.9" font-size="4.7" font-weight="normal" text-anchor="start" fill="#111" stroke="#111" stroke-width="0.25" font-style="italic">OCI-AML2</text>
<text x="16.9" y="273.40000000000003" font-size="4.15" font-weight="bold" text-anchor="middle" fill="#111" stroke="#111" stroke-width="0.208" transform="rotate(-90 16.9 273.40000000000003)">% cells annexin V positive</text>
<text x="129.1" y="235.7" font-size="4.2" font-weight="bold" text-anchor="start" fill="#111" stroke="#111" stroke-width="0.28">ABT-199 (nM)</text>
<rect x="131.10" y="242.80" width="5.30" height="2.40" fill="#16164c" stroke="#0a0a40" stroke-width="0.7"/>
<text x="139.9" y="245.3" font-size="3.6" font-weight="bold" text-anchor="start" fill="#111" stroke="#111" stroke-width="0.22">0</text>
<rect x="131.10" y="250.44" width="5.30" height="2.40" fill="#18189a" stroke="#0a0a70" stroke-width="0.7"/>
<text x="139.9" y="252.94" font-size="3.6" font-weight="bold" text-anchor="start" fill="#111" stroke="#111" stroke-width="0.22">0.4</text>
<rect x="131.10" y="258.08" width="5.30" height="2.40" fill="#7088a2" stroke="#4a6a8a" stroke-width="0.7"/>
<text x="139.9" y="260.58" font-size="3.6" font-weight="bold" text-anchor="start" fill="#111" stroke="#111" stroke-width="0.22">1.2</text>
<rect x="131.10" y="265.72" width="5.30" height="2.40" fill="#5e9048" stroke="#3a6a32" stroke-width="0.7"/>
<text x="139.9" y="268.22" font-size="3.6" font-weight="bold" text-anchor="start" fill="#111" stroke="#111" stroke-width="0.22">3.7</text>
<rect x="131.10" y="273.36" width="5.30" height="2.40" fill="#e8e890" stroke="#a8a828" stroke-width="0.7"/>
<text x="139.9" y="275.86" font-size="3.6" font-weight="bold" text-anchor="start" fill="#111" stroke="#111" stroke-width="0.22">11.1</text>
<rect x="131.10" y="281.00" width="5.30" height="2.40" fill="#98783e" stroke="#6a5028" stroke-width="0.7"/>
<text x="139.9" y="283.5" font-size="3.6" font-weight="bold" text-anchor="start" fill="#111" stroke="#111" stroke-width="0.22">33.3</text>
<rect x="131.10" y="288.64" width="5.30" height="2.40" fill="#c08c9a" stroke="#8a5a60" stroke-width="0.7"/>
<text x="139.9" y="291.14" font-size="3.6" font-weight="bold" text-anchor="start" fill="#111" stroke="#111" stroke-width="0.22">100</text>
<line x1="289.00" y1="248.30" x2="289.00" y2="307.60" stroke="#3a3a3a" stroke-width="0.8"/>
<line x1="288.70" y1="307.30" x2="377.60" y2="307.30" stroke="#3a3a3a" stroke-width="0.8"/>
<line x1="287.50" y1="307.30" x2="289.00" y2="307.30" stroke="#3a3a3a" stroke-width="0.6"/>
<text x="286.8" y="308.5" font-size="3.3" font-weight="bold" text-anchor="end" fill="#222" stroke="#222" stroke-width="0.165">0</text>
<line x1="287.50" y1="295.60" x2="289.00" y2="295.60" stroke="#3a3a3a" stroke-width="0.6"/>
<text x="286.8" y="296.8" font-size="3.3" font-weight="bold" text-anchor="end" fill="#222" stroke="#222" stroke-width="0.165">20</text>
<line x1="287.50" y1="283.90" x2="289.00" y2="283.90" stroke="#3a3a3a" stroke-width="0.6"/>
<text x="286.8" y="285.1" font-size="3.3" font-weight="bold" text-anchor="end" fill="#222" stroke="#222" stroke-width="0.165">40</text>
<line x1="287.50" y1="272.20" x2="289.00" y2="272.20" stroke="#3a3a3a" stroke-width="0.6"/>
<text x="286.8" y="273.40000000000003" font-size="3.3" font-weight="bold" text-anchor="end" fill="#222" stroke="#222" stroke-width="0.165">60</text>
<line x1="287.50" y1="260.50" x2="289.00" y2="260.50" stroke="#3a3a3a" stroke-width="0.6"/>
<text x="286.8" y="261.7" font-size="3.3" font-weight="bold" text-anchor="end" fill="#222" stroke="#222" stroke-width="0.165">80</text>
<line x1="287.50" y1="248.80" x2="289.00" y2="248.80" stroke="#3a3a3a" stroke-width="0.6"/>
<text x="286.8" y="250.0" font-size="3.3" font-weight="bold" text-anchor="end" fill="#222" stroke="#222" stroke-width="0.165">100</text>
<rect x="289.70" y="300.87" width="1.54" height="6.44" fill="#1a1a52"/>
<line x1="290.47" y1="300.87" x2="290.47" y2="298.06" stroke="#8a8a8a" stroke-width="0.5"/>
<line x1="289.85" y1="298.06" x2="291.09" y2="298.06" stroke="#8a8a8a" stroke-width="0.4"/>
<rect x="291.24" y="300.28" width="1.54" height="7.02" fill="#2828a0"/>
<line x1="292.01" y1="300.28" x2="292.01" y2="297.48" stroke="#8a8a8a" stroke-width="0.5"/>
<line x1="291.40" y1="297.48" x2="292.63" y2="297.48" stroke="#8a8a8a" stroke-width="0.4"/>
<rect x="292.79" y="297.94" width="1.54" height="9.36" fill="#6a88a8"/>
<line x1="293.56" y1="297.94" x2="293.56" y2="295.14" stroke="#8a8a8a" stroke-width="0.5"/>
<line x1="292.94" y1="295.14" x2="294.17" y2="295.14" stroke="#8a8a8a" stroke-width="0.4"/>
<rect x="294.33" y="295.60" width="1.54" height="11.70" fill="#6aa052"/>
<line x1="295.10" y1="295.60" x2="295.10" y2="292.80" stroke="#8a8a8a" stroke-width="0.5"/>
<line x1="294.48" y1="292.80" x2="295.72" y2="292.80" stroke="#8a8a8a" stroke-width="0.4"/>
<rect x="295.87" y="292.09" width="1.54" height="15.21" fill="#d2cc6c"/>
<line x1="296.64" y1="292.09" x2="296.64" y2="289.29" stroke="#8a8a8a" stroke-width="0.5"/>
<line x1="296.03" y1="289.29" x2="297.26" y2="289.29" stroke="#8a8a8a" stroke-width="0.4"/>
<rect x="297.41" y="289.17" width="1.54" height="18.13" fill="#bc8450"/>
<line x1="298.19" y1="289.17" x2="298.19" y2="286.37" stroke="#8a8a8a" stroke-width="0.5"/>
<line x1="297.57" y1="286.37" x2="298.80" y2="286.37" stroke="#8a8a8a" stroke-width="0.4"/>
<rect x="298.96" y="285.07" width="1.54" height="22.23" fill="#b87c6c"/>
<line x1="299.73" y1="285.07" x2="299.73" y2="282.27" stroke="#8a8a8a" stroke-width="0.5"/>
<line x1="299.11" y1="282.27" x2="300.35" y2="282.27" stroke="#8a8a8a" stroke-width="0.4"/>
<text x="295.1" y="312.2" font-size="3.6" font-weight="bold" text-anchor="middle" fill="#222" stroke="#222" stroke-width="0.18">0</text>
<rect x="302.12" y="300.87" width="1.54" height="6.44" fill="#1a1a52"/>
<line x1="302.89" y1="300.87" x2="302.89" y2="298.06" stroke="#8a8a8a" stroke-width="0.5"/>
<line x1="302.27" y1="298.06" x2="303.51" y2="298.06" stroke="#8a8a8a" stroke-width="0.4"/>
<rect x="303.66" y="299.69" width="1.54" height="7.61" fill="#2828a0"/>
<line x1="304.43" y1="299.69" x2="304.43" y2="296.89" stroke="#8a8a8a" stroke-width="0.5"/>
<line x1="303.82" y1="296.89" x2="305.05" y2="296.89" stroke="#8a8a8a" stroke-width="0.4"/>
<rect x="305.21" y="296.77" width="1.54" height="10.53" fill="#6a88a8"/>
<line x1="305.98" y1="296.77" x2="305.98" y2="293.97" stroke="#8a8a8a" stroke-width="0.5"/>
<line x1="305.36" y1="293.97" x2="306.59" y2="293.97" stroke="#8a8a8a" stroke-width="0.4"/>
<rect x="306.75" y="296.77" width="1.54" height="10.53" fill="#6aa052"/>
<line x1="307.52" y1="296.77" x2="307.52" y2="293.97" stroke="#8a8a8a" stroke-width="0.5"/>
<line x1="306.90" y1="293.97" x2="308.14" y2="293.97" stroke="#8a8a8a" stroke-width="0.4"/>
<rect x="308.29" y="292.09" width="1.54" height="15.21" fill="#d2cc6c"/>
<line x1="309.06" y1="292.09" x2="309.06" y2="289.29" stroke="#8a8a8a" stroke-width="0.5"/>
<line x1="308.45" y1="289.29" x2="309.68" y2="289.29" stroke="#8a8a8a" stroke-width="0.4"/>
<rect x="309.83" y="289.17" width="1.54" height="18.13" fill="#bc8450"/>
<line x1="310.61" y1="289.17" x2="310.61" y2="286.37" stroke="#8a8a8a" stroke-width="0.5"/>
<line x1="309.99" y1="286.37" x2="311.22" y2="286.37" stroke="#8a8a8a" stroke-width="0.4"/>
<rect x="311.38" y="281.56" width="1.54" height="25.74" fill="#b87c6c"/>
<line x1="312.15" y1="281.56" x2="312.15" y2="278.76" stroke="#8a8a8a" stroke-width="0.5"/>
<line x1="311.53" y1="278.76" x2="312.77" y2="278.76" stroke="#8a8a8a" stroke-width="0.4"/>
<text x="307.52000000000004" y="312.2" font-size="3.6" font-weight="bold" text-anchor="middle" fill="#222" stroke="#222" stroke-width="0.18">4</text>
<rect x="314.54" y="299.69" width="1.54" height="7.61" fill="#1a1a52"/>
<line x1="315.31" y1="299.69" x2="315.31" y2="296.89" stroke="#8a8a8a" stroke-width="0.5"/>
<line x1="314.69" y1="296.89" x2="315.93" y2="296.89" stroke="#8a8a8a" stroke-width="0.4"/>
<rect x="316.08" y="299.11" width="1.54" height="8.19" fill="#2828a0"/>
<line x1="316.85" y1="299.11" x2="316.85" y2="296.31" stroke="#8a8a8a" stroke-width="0.5"/>
<line x1="316.24" y1="296.31" x2="317.47" y2="296.31" stroke="#8a8a8a" stroke-width="0.4"/>
<rect x="317.63" y="296.77" width="1.54" height="10.53" fill="#6a88a8"/>
<line x1="318.40" y1="296.77" x2="318.40" y2="293.97" stroke="#8a8a8a" stroke-width="0.5"/>
<line x1="317.78" y1="293.97" x2="319.01" y2="293.97" stroke="#8a8a8a" stroke-width="0.4"/>
<rect x="319.17" y="295.01" width="1.54" height="12.29" fill="#6aa052"/>
<line x1="319.94" y1="295.01" x2="319.94" y2="292.21" stroke="#8a8a8a" stroke-width="0.5"/>
<line x1="319.32" y1="292.21" x2="320.56" y2="292.21" stroke="#8a8a8a" stroke-width="0.4"/>
<rect x="320.71" y="291.50" width="1.54" height="15.80" fill="#d2cc6c"/>
<line x1="321.48" y1="291.50" x2="321.48" y2="288.70" stroke="#8a8a8a" stroke-width="0.5"/>
<line x1="320.87" y1="288.70" x2="322.10" y2="288.70" stroke="#8a8a8a" stroke-width="0.4"/>
<rect x="322.25" y="285.66" width="1.54" height="21.64" fill="#bc8450"/>
<line x1="323.03" y1="285.66" x2="323.03" y2="282.86" stroke="#8a8a8a" stroke-width="0.5"/>
<line x1="322.41" y1="282.86" x2="323.64" y2="282.86" stroke="#8a8a8a" stroke-width="0.4"/>
<rect x="323.80" y="280.98" width="1.54" height="26.32" fill="#b87c6c"/>
<line x1="324.57" y1="280.98" x2="324.57" y2="278.18" stroke="#8a8a8a" stroke-width="0.5"/>
<line x1="323.95" y1="278.18" x2="325.19" y2="278.18" stroke="#8a8a8a" stroke-width="0.4"/>
<text x="319.94" y="312.2" font-size="3.6" font-weight="bold" text-anchor="middle" fill="#222" stroke="#222" stroke-width="0.18">12</text>
<rect x="326.96" y="299.11" width="1.54" height="8.19" fill="#1a1a52"/>
<line x1="327.73" y1="299.11" x2="327.73" y2="296.31" stroke="#8a8a8a" stroke-width="0.5"/>
<line x1="327.11" y1="296.31" x2="328.35" y2="296.31" stroke="#8a8a8a" stroke-width="0.4"/>
<rect x="328.50" y="297.94" width="1.54" height="9.36" fill="#2828a0"/>
<line x1="329.27" y1="297.94" x2="329.27" y2="295.14" stroke="#8a8a8a" stroke-width="0.5"/>
<line x1="328.66" y1="295.14" x2="329.89" y2="295.14" stroke="#8a8a8a" stroke-width="0.4"/>
<rect x="330.05" y="296.77" width="1.54" height="10.53" fill="#6a88a8"/>
<line x1="330.82" y1="296.77" x2="330.82" y2="293.97" stroke="#8a8a8a" stroke-width="0.5"/>
<line x1="330.20" y1="293.97" x2="331.43" y2="293.97" stroke="#8a8a8a" stroke-width="0.4"/>
<rect x="331.59" y="292.68" width="1.54" height="14.62" fill="#6aa052"/>
<line x1="332.36" y1="292.68" x2="332.36" y2="289.88" stroke="#8a8a8a" stroke-width="0.5"/>
<line x1="331.74" y1="289.88" x2="332.98" y2="289.88" stroke="#8a8a8a" stroke-width="0.4"/>
<rect x="333.13" y="289.75" width="1.54" height="17.55" fill="#d2cc6c"/>
<line x1="333.90" y1="289.75" x2="333.90" y2="286.95" stroke="#8a8a8a" stroke-width="0.5"/>
<line x1="333.29" y1="286.95" x2="334.52" y2="286.95" stroke="#8a8a8a" stroke-width="0.4"/>
<rect x="334.67" y="284.49" width="1.54" height="22.81" fill="#bc8450"/>
<line x1="335.45" y1="284.49" x2="335.45" y2="281.69" stroke="#8a8a8a" stroke-width="0.5"/>
<line x1="334.83" y1="281.69" x2="336.06" y2="281.69" stroke="#8a8a8a" stroke-width="0.4"/>
<rect x="336.22" y="278.63" width="1.54" height="28.67" fill="#b87c6c"/>
<line x1="336.99" y1="278.63" x2="336.99" y2="275.83" stroke="#8a8a8a" stroke-width="0.5"/>
<line x1="336.37" y1="275.83" x2="337.61" y2="275.83" stroke="#8a8a8a" stroke-width="0.4"/>
<text x="332.36" y="312.2" font-size="3.6" font-weight="bold" text-anchor="middle" fill="#222" stroke="#222" stroke-width="0.18">37</text>
<rect x="339.38" y="298.53" width="1.54" height="8.77" fill="#1a1a52"/>
<line x1="340.15" y1="298.53" x2="340.15" y2="295.73" stroke="#8a8a8a" stroke-width="0.5"/>
<line x1="339.53" y1="295.73" x2="340.77" y2="295.73" stroke="#8a8a8a" stroke-width="0.4"/>
<rect x="340.92" y="297.94" width="1.54" height="9.36" fill="#2828a0"/>
<line x1="341.69" y1="297.94" x2="341.69" y2="295.14" stroke="#8a8a8a" stroke-width="0.5"/>
<line x1="341.08" y1="295.14" x2="342.31" y2="295.14" stroke="#8a8a8a" stroke-width="0.4"/>
<rect x="342.47" y="294.43" width="1.54" height="12.87" fill="#6a88a8"/>
<line x1="343.24" y1="294.43" x2="343.24" y2="291.63" stroke="#8a8a8a" stroke-width="0.5"/>
<line x1="342.62" y1="291.63" x2="343.85" y2="291.63" stroke="#8a8a8a" stroke-width="0.4"/>
<rect x="344.01" y="291.50" width="1.54" height="15.80" fill="#6aa052"/>
<line x1="344.78" y1="291.50" x2="344.78" y2="288.70" stroke="#8a8a8a" stroke-width="0.5"/>
<line x1="344.16" y1="288.70" x2="345.40" y2="288.70" stroke="#8a8a8a" stroke-width="0.4"/>
<rect x="345.55" y="286.24" width="1.54" height="21.06" fill="#d2cc6c"/>
<line x1="346.32" y1="286.24" x2="346.32" y2="283.44" stroke="#8a8a8a" stroke-width="0.5"/>
<line x1="345.71" y1="283.44" x2="346.94" y2="283.44" stroke="#8a8a8a" stroke-width="0.4"/>
<rect x="347.09" y="280.39" width="1.54" height="26.91" fill="#bc8450"/>
<line x1="347.87" y1="280.39" x2="347.87" y2="277.59" stroke="#8a8a8a" stroke-width="0.5"/>
<line x1="347.25" y1="277.59" x2="348.48" y2="277.59" stroke="#8a8a8a" stroke-width="0.4"/>
<rect x="348.64" y="273.96" width="1.54" height="33.34" fill="#b87c6c"/>
<line x1="349.41" y1="273.96" x2="349.41" y2="271.16" stroke="#8a8a8a" stroke-width="0.5"/>
<line x1="348.79" y1="271.16" x2="350.03" y2="271.16" stroke="#8a8a8a" stroke-width="0.4"/>
<text x="344.78000000000003" y="312.2" font-size="3.6" font-weight="bold" text-anchor="middle" fill="#222" stroke="#222" stroke-width="0.18">111</text>
<rect x="351.80" y="298.53" width="1.54" height="8.77" fill="#1a1a52"/>
<line x1="352.57" y1="298.53" x2="352.57" y2="295.73" stroke="#8a8a8a" stroke-width="0.5"/>
<line x1="351.95" y1="295.73" x2="353.19" y2="295.73" stroke="#8a8a8a" stroke-width="0.4"/>
<rect x="353.34" y="296.19" width="1.54" height="11.12" fill="#2828a0"/>
<line x1="354.11" y1="296.19" x2="354.11" y2="293.38" stroke="#8a8a8a" stroke-width="0.5"/>
<line x1="353.50" y1="293.38" x2="354.73" y2="293.38" stroke="#8a8a8a" stroke-width="0.4"/>
<rect x="354.89" y="293.26" width="1.54" height="14.04" fill="#6a88a8"/>
<line x1="355.66" y1="293.26" x2="355.66" y2="290.46" stroke="#8a8a8a" stroke-width="0.5"/>
<line x1="355.04" y1="290.46" x2="356.27" y2="290.46" stroke="#8a8a8a" stroke-width="0.4"/>
<rect x="356.43" y="290.92" width="1.54" height="16.38" fill="#6aa052"/>
<line x1="357.20" y1="290.92" x2="357.20" y2="288.12" stroke="#8a8a8a" stroke-width="0.5"/>
<line x1="356.58" y1="288.12" x2="357.82" y2="288.12" stroke="#8a8a8a" stroke-width="0.4"/>
<rect x="357.97" y="285.07" width="1.54" height="22.23" fill="#d2cc6c"/>
<line x1="358.74" y1="285.07" x2="358.74" y2="282.27" stroke="#8a8a8a" stroke-width="0.5"/>
<line x1="358.13" y1="282.27" x2="359.36" y2="282.27" stroke="#8a8a8a" stroke-width="0.4"/>
<rect x="359.51" y="276.30" width="1.54" height="31.00" fill="#bc8450"/>
<line x1="360.29" y1="276.30" x2="360.29" y2="273.50" stroke="#8a8a8a" stroke-width="0.5"/>
<line x1="359.67" y1="273.50" x2="360.90" y2="273.50" stroke="#8a8a8a" stroke-width="0.4"/>
<rect x="361.06" y="270.44" width="1.54" height="36.86" fill="#b87c6c"/>
<line x1="361.83" y1="270.44" x2="361.83" y2="267.64" stroke="#8a8a8a" stroke-width="0.5"/>
<line x1="361.21" y1="267.64" x2="362.45" y2="267.64" stroke="#8a8a8a" stroke-width="0.4"/>
<text x="357.20000000000005" y="312.2" font-size="3.6" font-weight="bold" text-anchor="middle" fill="#222" stroke="#222" stroke-width="0.18">333</text>
<rect x="364.22" y="297.94" width="1.54" height="9.36" fill="#1a1a52"/>
<line x1="364.99" y1="297.94" x2="364.99" y2="295.14" stroke="#8a8a8a" stroke-width="0.5"/>
<line x1="364.37" y1="295.14" x2="365.61" y2="295.14" stroke="#8a8a8a" stroke-width="0.4"/>
<rect x="365.76" y="295.01" width="1.54" height="12.29" fill="#2828a0"/>
<line x1="366.53" y1="295.01" x2="366.53" y2="292.21" stroke="#8a8a8a" stroke-width="0.5"/>
<line x1="365.92" y1="292.21" x2="367.15" y2="292.21" stroke="#8a8a8a" stroke-width="0.4"/>
<rect x="367.31" y="293.26" width="1.54" height="14.04" fill="#6a88a8"/>
<line x1="368.08" y1="293.26" x2="368.08" y2="290.46" stroke="#8a8a8a" stroke-width="0.5"/>
<line x1="367.46" y1="290.46" x2="368.69" y2="290.46" stroke="#8a8a8a" stroke-width="0.4"/>
<rect x="368.85" y="288.58" width="1.54" height="18.72" fill="#6aa052"/>
<line x1="369.62" y1="288.58" x2="369.62" y2="285.78" stroke="#8a8a8a" stroke-width="0.5"/>
<line x1="369.00" y1="285.78" x2="370.24" y2="285.78" stroke="#8a8a8a" stroke-width="0.4"/>
<rect x="370.39" y="279.81" width="1.54" height="27.50" fill="#d2cc6c"/>
<line x1="371.16" y1="279.81" x2="371.16" y2="277.00" stroke="#8a8a8a" stroke-width="0.5"/>
<line x1="370.55" y1="277.00" x2="371.78" y2="277.00" stroke="#8a8a8a" stroke-width="0.4"/>
<rect x="371.93" y="275.12" width="1.54" height="32.18" fill="#bc8450"/>
<line x1="372.71" y1="275.12" x2="372.71" y2="272.32" stroke="#8a8a8a" stroke-width="0.5"/>
<line x1="372.09" y1="272.32" x2="373.32" y2="272.32" stroke="#8a8a8a" stroke-width="0.4"/>
<rect x="373.48" y="268.69" width="1.54" height="38.61" fill="#b87c6c"/>
<line x1="374.25" y1="268.69" x2="374.25" y2="265.89" stroke="#8a8a8a" stroke-width="0.5"/>
<line x1="373.63" y1="265.89" x2="374.87" y2="265.89" stroke="#8a8a8a" stroke-width="0.4"/>
<text x="369.62" y="312.2" font-size="3.6" font-weight="bold" text-anchor="middle" fill="#222" stroke="#222" stroke-width="0.18">1000</text>
<text x="333.8" y="318.6" font-size="4.0" font-weight="bold" text-anchor="middle" fill="#111" stroke="#111" stroke-width="0.2">CB-839 (nM)</text>
<text x="291.9" y="253.0" font-size="4.7" font-weight="normal" text-anchor="start" fill="#111" stroke="#111" stroke-width="0.25" font-style="italic">MOLM-14</text>
<text x="280.8" y="277.35" font-size="4.15" font-weight="bold" text-anchor="middle" fill="#111" stroke="#111" stroke-width="0.208" transform="rotate(-90 280.8 277.35)">% cells annexin V positive</text>
<text x="379.8" y="242.6" font-size="3.65" font-weight="bold" text-anchor="start" fill="#111" stroke="#111" stroke-width="0.28">ABT-199 (nM)</text>
<rect x="381.80" y="249.95" width="4.70" height="1.90" fill="#16164c" stroke="#0a0a40" stroke-width="0.7"/>
<text x="390.6" y="252.20000000000002" font-size="3.2" font-weight="bold" text-anchor="start" fill="#111" stroke="#111" stroke-width="0.22">0</text>
<rect x="381.80" y="256.78" width="4.70" height="1.90" fill="#18189a" stroke="#0a0a70" stroke-width="0.7"/>
<text x="390.6" y="259.03000000000003" font-size="3.2" font-weight="bold" text-anchor="start" fill="#111" stroke="#111" stroke-width="0.22">0.4</text>
<rect x="381.80" y="263.61" width="4.70" height="1.90" fill="#7088a2" stroke="#4a6a8a" stroke-width="0.7"/>
<text x="390.6" y="265.86" font-size="3.2" font-weight="bold" text-anchor="start" fill="#111" stroke="#111" stroke-width="0.22">1.2</text>
<rect x="381.80" y="270.44" width="4.70" height="1.90" fill="#5e9048" stroke="#3a6a32" stroke-width="0.7"/>
<text x="390.6" y="272.69" font-size="3.2" font-weight="bold" text-anchor="start" fill="#111" stroke="#111" stroke-width="0.22">3.7</text>
<rect x="381.80" y="277.27" width="4.70" height="1.90" fill="#e8e890" stroke="#a8a828" stroke-width="0.7"/>
<text x="390.6" y="279.52000000000004" font-size="3.2" font-weight="bold" text-anchor="start" fill="#111" stroke="#111" stroke-width="0.22">11.1</text>
<rect x="381.80" y="284.10" width="4.70" height="1.90" fill="#98783e" stroke="#6a5028" stroke-width="0.7"/>
<text x="390.6" y="286.35" font-size="3.2" font-weight="bold" text-anchor="start" fill="#111" stroke="#111" stroke-width="0.22">33.3</text>
<rect x="381.80" y="290.93" width="4.70" height="1.90" fill="#c08c9a" stroke="#8a5a60" stroke-width="0.7"/>
<text x="390.6" y="293.18" font-size="3.2" font-weight="bold" text-anchor="start" fill="#111" stroke="#111" stroke-width="0.22">100</text>
<text x="191.3" y="338.4" font-size="5.4" font-weight="bold" text-anchor="start" fill="#111" stroke="#111" stroke-width="0.27">Isobologram</text>
<rect x="188.60" y="347.50" width="67.10" height="66.70" fill="none" stroke="#d8d8d8" stroke-width="0.8"/>
<line x1="194.50" y1="345.10" x2="194.50" y2="347.10" stroke="#333" stroke-width="0.6"/>
<line x1="194.50" y1="414.80" x2="194.50" y2="416.80" stroke="#333" stroke-width="0.6"/>
<line x1="186.20" y1="408.80" x2="188.10" y2="408.80" stroke="#333" stroke-width="0.6"/>
<line x1="256.20" y1="408.80" x2="258.10" y2="408.80" stroke="#333" stroke-width="0.6"/>
<line x1="200.11" y1="345.10" x2="200.11" y2="347.10" stroke="#333" stroke-width="0.6"/>
<line x1="200.11" y1="414.80" x2="200.11" y2="416.80" stroke="#333" stroke-width="0.6"/>
<line x1="186.20" y1="403.28" x2="188.10" y2="403.28" stroke="#333" stroke-width="0.6"/>
<line x1="256.20" y1="403.28" x2="258.10" y2="403.28" stroke="#333" stroke-width="0.6"/>
<line x1="205.72" y1="345.10" x2="205.72" y2="347.10" stroke="#333" stroke-width="0.6"/>
<line x1="205.72" y1="414.80" x2="205.72" y2="416.80" stroke="#333" stroke-width="0.6"/>
<line x1="186.20" y1="397.76" x2="188.10" y2="397.76" stroke="#333" stroke-width="0.6"/>
<line x1="256.20" y1="397.76" x2="258.10" y2="397.76" stroke="#333" stroke-width="0.6"/>
<line x1="211.33" y1="345.10" x2="211.33" y2="347.10" stroke="#333" stroke-width="0.6"/>
<line x1="211.33" y1="414.80" x2="211.33" y2="416.80" stroke="#333" stroke-width="0.6"/>
<line x1="186.20" y1="392.24" x2="188.10" y2="392.24" stroke="#333" stroke-width="0.6"/>
<line x1="256.20" y1="392.24" x2="258.10" y2="392.24" stroke="#333" stroke-width="0.6"/>
<line x1="216.94" y1="345.10" x2="216.94" y2="347.10" stroke="#333" stroke-width="0.6"/>
<line x1="216.94" y1="414.80" x2="216.94" y2="416.80" stroke="#333" stroke-width="0.6"/>
<line x1="186.20" y1="386.72" x2="188.10" y2="386.72" stroke="#333" stroke-width="0.6"/>
<line x1="256.20" y1="386.72" x2="258.10" y2="386.72" stroke="#333" stroke-width="0.6"/>
<line x1="222.55" y1="345.10" x2="222.55" y2="347.10" stroke="#333" stroke-width="0.6"/>
<line x1="222.55" y1="414.80" x2="222.55" y2="416.80" stroke="#333" stroke-width="0.6"/>
<line x1="186.20" y1="381.20" x2="188.10" y2="381.20" stroke="#333" stroke-width="0.6"/>
<line x1="256.20" y1="381.20" x2="258.10" y2="381.20" stroke="#333" stroke-width="0.6"/>
<line x1="228.16" y1="345.10" x2="228.16" y2="347.10" stroke="#333" stroke-width="0.6"/>
<line x1="228.16" y1="414.80" x2="228.16" y2="416.80" stroke="#333" stroke-width="0.6"/>
<line x1="186.20" y1="375.68" x2="188.10" y2="375.68" stroke="#333" stroke-width="0.6"/>
<line x1="256.20" y1="375.68" x2="258.10" y2="375.68" stroke="#333" stroke-width="0.6"/>
<line x1="233.77" y1="345.10" x2="233.77" y2="347.10" stroke="#333" stroke-width="0.6"/>
<line x1="233.77" y1="414.80" x2="233.77" y2="416.80" stroke="#333" stroke-width="0.6"/>
<line x1="186.20" y1="370.16" x2="188.10" y2="370.16" stroke="#333" stroke-width="0.6"/>
<line x1="256.20" y1="370.16" x2="258.10" y2="370.16" stroke="#333" stroke-width="0.6"/>
<line x1="239.38" y1="345.10" x2="239.38" y2="347.10" stroke="#333" stroke-width="0.6"/>
<line x1="239.38" y1="414.80" x2="239.38" y2="416.80" stroke="#333" stroke-width="0.6"/>
<line x1="186.20" y1="364.64" x2="188.10" y2="364.64" stroke="#333" stroke-width="0.6"/>
<line x1="256.20" y1="364.64" x2="258.10" y2="364.64" stroke="#333" stroke-width="0.6"/>
<line x1="244.99" y1="345.10" x2="244.99" y2="347.10" stroke="#333" stroke-width="0.6"/>
<line x1="244.99" y1="414.80" x2="244.99" y2="416.80" stroke="#333" stroke-width="0.6"/>
<line x1="186.20" y1="359.12" x2="188.10" y2="359.12" stroke="#333" stroke-width="0.6"/>
<line x1="256.20" y1="359.12" x2="258.10" y2="359.12" stroke="#333" stroke-width="0.6"/>
<line x1="250.60" y1="345.10" x2="250.60" y2="347.10" stroke="#333" stroke-width="0.6"/>
<line x1="250.60" y1="414.80" x2="250.60" y2="416.80" stroke="#333" stroke-width="0.6"/>
<line x1="186.20" y1="353.60" x2="188.10" y2="353.60" stroke="#333" stroke-width="0.6"/>
<line x1="256.20" y1="353.60" x2="258.10" y2="353.60" stroke="#333" stroke-width="0.6"/>
<line x1="194.50" y1="351.00" x2="194.50" y2="408.80" stroke="#a0a0b8" stroke-width="0.6"/>
<line x1="194.50" y1="408.80" x2="250.60" y2="408.80" stroke="#d0c0b0" stroke-width="0.6"/>
<line x1="194.50" y1="356.10" x2="250.60" y2="409.40" stroke="#b06060" stroke-width="0.7"/>
<circle cx="194.50" cy="351.00" r="0.9" fill="#a04060"/>
<polyline points="194.50,388.38 194.50,390.58 194.72,398.31 195.62,403.28 196.74,407.70 200.67,408.58 203.48,408.58 213.01,408.58 250.60,408.80" fill="none" stroke="#9a9ae6" stroke-width="1.3" stroke-linejoin="round"/>
<circle cx="194.50" cy="388.38" r="0.85" fill="#2a2a90"/>
<circle cx="194.50" cy="390.58" r="0.85" fill="#2a2a90"/>
<circle cx="194.72" cy="398.31" r="0.85" fill="#2a2a90"/>
<circle cx="195.62" cy="403.28" r="0.85" fill="#2a2a90"/>
<circle cx="196.74" cy="407.70" r="0.85" fill="#2a2a90"/>
<circle cx="200.67" cy="408.58" r="0.85" fill="#2a2a90"/>
<circle cx="203.48" cy="408.58" r="0.85" fill="#2a2a90"/>
<circle cx="213.01" cy="408.58" r="0.85" fill="#2a2a90"/>
<circle cx="250.60" cy="408.80" r="0.85" fill="#2a2a90"/>
<text x="183.9" y="408.8" font-size="5.2" font-weight="normal" text-anchor="middle" fill="#222" stroke="#222" stroke-width="0.2" transform="rotate(-90 183.9 408.8)">0</text>
<text x="194.5" y="423.5" font-size="5.8" font-weight="normal" text-anchor="middle" fill="#222" stroke="#222" stroke-width="0.2">0</text>
<text x="183.9" y="381.20000000000005" font-size="5.2" font-weight="normal" text-anchor="middle" fill="#222" stroke="#222" stroke-width="0.2" transform="rotate(-90 183.9 381.20000000000005)">.5</text>
<text x="222.55" y="423.5" font-size="5.8" font-weight="normal" text-anchor="middle" fill="#222" stroke="#222" stroke-width="0.2">.5</text>
<text x="183.9" y="353.6" font-size="5.2" font-weight="normal" text-anchor="middle" fill="#222" stroke="#222" stroke-width="0.2" transform="rotate(-90 183.9 353.6)">1</text>
<text x="250.6" y="423.5" font-size="5.8" font-weight="normal" text-anchor="middle" fill="#222" stroke="#222" stroke-width="0.2">1</text>
<text x="223.05" y="432.4" font-size="5.3" font-weight="normal" text-anchor="middle" fill="#222" stroke="#222" stroke-width="0.2">CB-839 / 1uM</text>
<text x="174.0" y="381.20000000000005" font-size="5.4" font-weight="normal" text-anchor="middle" fill="#222" stroke="#222" stroke-width="0.2" transform="rotate(-90 174.0 381.20000000000005)">ABT-199 / 1uM</text>
<text x="261.09999999999997" y="374.2" font-size="3.1" font-weight="normal" text-anchor="start" fill="#c04848" stroke="#c04848" stroke-width="0.12" transform="rotate(-90 261.09999999999997 374.2)">Additivity</text>
<text x="265.09999999999997" y="371.8" font-size="3.5" font-weight="normal" text-anchor="start" fill="#4444d0" stroke="#4444d0" stroke-width="0.2" transform="rotate(-90 265.09999999999997 371.8)">Antagonism(1)</text>
<text x="442.8" y="340.2" font-size="5.4" font-weight="bold" text-anchor="start" fill="#111" stroke="#111" stroke-width="0.27">Isobologram</text>
<rect x="440.20" y="346.80" width="67.80" height="68.20" fill="none" stroke="#d8d8d8" stroke-width="0.8"/>
<line x1="446.40" y1="344.40" x2="446.40" y2="346.40" stroke="#333" stroke-width="0.6"/>
<line x1="446.40" y1="415.60" x2="446.40" y2="417.60" stroke="#333" stroke-width="0.6"/>
<line x1="437.80" y1="409.20" x2="439.70" y2="409.20" stroke="#333" stroke-width="0.6"/>
<line x1="508.50" y1="409.20" x2="510.40" y2="409.20" stroke="#333" stroke-width="0.6"/>
<line x1="452.12" y1="344.40" x2="452.12" y2="346.40" stroke="#333" stroke-width="0.6"/>
<line x1="452.12" y1="415.60" x2="452.12" y2="417.60" stroke="#333" stroke-width="0.6"/>
<line x1="437.80" y1="403.50" x2="439.70" y2="403.50" stroke="#333" stroke-width="0.6"/>
<line x1="508.50" y1="403.50" x2="510.40" y2="403.50" stroke="#333" stroke-width="0.6"/>
<line x1="457.84" y1="344.40" x2="457.84" y2="346.40" stroke="#333" stroke-width="0.6"/>
<line x1="457.84" y1="415.60" x2="457.84" y2="417.60" stroke="#333" stroke-width="0.6"/>
<line x1="437.80" y1="397.80" x2="439.70" y2="397.80" stroke="#333" stroke-width="0.6"/>
<line x1="508.50" y1="397.80" x2="510.40" y2="397.80" stroke="#333" stroke-width="0.6"/>
<line x1="463.56" y1="344.40" x2="463.56" y2="346.40" stroke="#333" stroke-width="0.6"/>
<line x1="463.56" y1="415.60" x2="463.56" y2="417.60" stroke="#333" stroke-width="0.6"/>
<line x1="437.80" y1="392.10" x2="439.70" y2="392.10" stroke="#333" stroke-width="0.6"/>
<line x1="508.50" y1="392.10" x2="510.40" y2="392.10" stroke="#333" stroke-width="0.6"/>
<line x1="469.28" y1="344.40" x2="469.28" y2="346.40" stroke="#333" stroke-width="0.6"/>
<line x1="469.28" y1="415.60" x2="469.28" y2="417.60" stroke="#333" stroke-width="0.6"/>
<line x1="437.80" y1="386.40" x2="439.70" y2="386.40" stroke="#333" stroke-width="0.6"/>
<line x1="508.50" y1="386.40" x2="510.40" y2="386.40" stroke="#333" stroke-width="0.6"/>
<line x1="475.00" y1="344.40" x2="475.00" y2="346.40" stroke="#333" stroke-width="0.6"/>
<line x1="475.00" y1="415.60" x2="475.00" y2="417.60" stroke="#333" stroke-width="0.6"/>
<line x1="437.80" y1="380.70" x2="439.70" y2="380.70" stroke="#333" stroke-width="0.6"/>
<line x1="508.50" y1="380.70" x2="510.40" y2="380.70" stroke="#333" stroke-width="0.6"/>
<line x1="480.72" y1="344.40" x2="480.72" y2="346.40" stroke="#333" stroke-width="0.6"/>
<line x1="480.72" y1="415.60" x2="480.72" y2="417.60" stroke="#333" stroke-width="0.6"/>
<line x1="437.80" y1="375.00" x2="439.70" y2="375.00" stroke="#333" stroke-width="0.6"/>
<line x1="508.50" y1="375.00" x2="510.40" y2="375.00" stroke="#333" stroke-width="0.6"/>
<line x1="486.44" y1="344.40" x2="486.44" y2="346.40" stroke="#333" stroke-width="0.6"/>
<line x1="486.44" y1="415.60" x2="486.44" y2="417.60" stroke="#333" stroke-width="0.6"/>
<line x1="437.80" y1="369.30" x2="439.70" y2="369.30" stroke="#333" stroke-width="0.6"/>
<line x1="508.50" y1="369.30" x2="510.40" y2="369.30" stroke="#333" stroke-width="0.6"/>
<line x1="492.16" y1="344.40" x2="492.16" y2="346.40" stroke="#333" stroke-width="0.6"/>
<line x1="492.16" y1="415.60" x2="492.16" y2="417.60" stroke="#333" stroke-width="0.6"/>
<line x1="437.80" y1="363.60" x2="439.70" y2="363.60" stroke="#333" stroke-width="0.6"/>
<line x1="508.50" y1="363.60" x2="510.40" y2="363.60" stroke="#333" stroke-width="0.6"/>
<line x1="497.88" y1="344.40" x2="497.88" y2="346.40" stroke="#333" stroke-width="0.6"/>
<line x1="497.88" y1="415.60" x2="497.88" y2="417.60" stroke="#333" stroke-width="0.6"/>
<line x1="437.80" y1="357.90" x2="439.70" y2="357.90" stroke="#333" stroke-width="0.6"/>
<line x1="508.50" y1="357.90" x2="510.40" y2="357.90" stroke="#333" stroke-width="0.6"/>
<line x1="503.60" y1="344.40" x2="503.60" y2="346.40" stroke="#333" stroke-width="0.6"/>
<line x1="503.60" y1="415.60" x2="503.60" y2="417.60" stroke="#333" stroke-width="0.6"/>
<line x1="437.80" y1="352.20" x2="439.70" y2="352.20" stroke="#333" stroke-width="0.6"/>
<line x1="508.50" y1="352.20" x2="510.40" y2="352.20" stroke="#333" stroke-width="0.6"/>
<line x1="446.40" y1="352.20" x2="446.40" y2="409.20" stroke="#a0a0b8" stroke-width="0.6"/>
<line x1="446.40" y1="409.20" x2="503.60" y2="409.20" stroke="#d0c0b0" stroke-width="0.6"/>
<line x1="446.40" y1="352.20" x2="503.60" y2="409.80" stroke="#b06060" stroke-width="0.7"/>
<circle cx="446.40" cy="352.20" r="0.9" fill="#a04060"/>
<polyline points="446.40,352.20 446.40,379.56 446.40,388.68 446.74,391.53 448.40,394.38 452.12,402.36 465.28,404.07 503.60,405.78" fill="none" stroke="#4848c8" stroke-width="0.9" stroke-linejoin="round"/>
<circle cx="446.40" cy="352.20" r="0.85" fill="#2a2a90"/>
<circle cx="446.40" cy="379.56" r="0.85" fill="#2a2a90"/>
<circle cx="446.40" cy="388.68" r="0.85" fill="#2a2a90"/>
<circle cx="446.74" cy="391.53" r="0.85" fill="#2a2a90"/>
<circle cx="448.40" cy="394.38" r="0.85" fill="#2a2a90"/>
<circle cx="452.12" cy="402.36" r="0.85" fill="#2a2a90"/>
<circle cx="465.28" cy="404.07" r="0.85" fill="#2a2a90"/>
<circle cx="503.60" cy="405.78" r="0.85" fill="#2a2a90"/>
<text x="433.4" y="409.2" font-size="5.2" font-weight="normal" text-anchor="middle" fill="#222" stroke="#222" stroke-width="0.2" transform="rotate(-90 433.4 409.2)">0</text>
<text x="446.4" y="423.5" font-size="5.8" font-weight="normal" text-anchor="middle" fill="#222" stroke="#222" stroke-width="0.2">0</text>
<text x="433.4" y="380.7" font-size="5.2" font-weight="normal" text-anchor="middle" fill="#222" stroke="#222" stroke-width="0.2" transform="rotate(-90 433.4 380.7)">.5</text>
<text x="475.0" y="423.5" font-size="5.8" font-weight="normal" text-anchor="middle" fill="#222" stroke="#222" stroke-width="0.2">.5</text>
<text x="433.4" y="352.2" font-size="5.2" font-weight="normal" text-anchor="middle" fill="#222" stroke="#222" stroke-width="0.2" transform="rotate(-90 433.4 352.2)">1</text>
<text x="503.6" y="423.5" font-size="5.8" font-weight="normal" text-anchor="middle" fill="#222" stroke="#222" stroke-width="0.2">1</text>
<text x="475.5" y="433.3" font-size="5.3" font-weight="normal" text-anchor="middle" fill="#222" stroke="#222" stroke-width="0.2">CB-839 / 1uM</text>
<text x="423.2" y="380.7" font-size="5.4" font-weight="normal" text-anchor="middle" fill="#222" stroke="#222" stroke-width="0.2" transform="rotate(-90 423.2 380.7)">ABT-199 / .003uM</text>
<text x="513.4" y="366.8" font-size="3.1" font-weight="normal" text-anchor="start" fill="#c04848" stroke="#c04848" stroke-width="0.12" transform="rotate(-90 513.4 366.8)">Additivity</text>
<text x="517.4" y="365.8" font-size="3.5" font-weight="normal" text-anchor="start" fill="#4444d0" stroke="#4444d0" stroke-width="0.2" transform="rotate(-90 517.4 365.8)">Antagonism(1)</text>
</svg>
</body></html>
